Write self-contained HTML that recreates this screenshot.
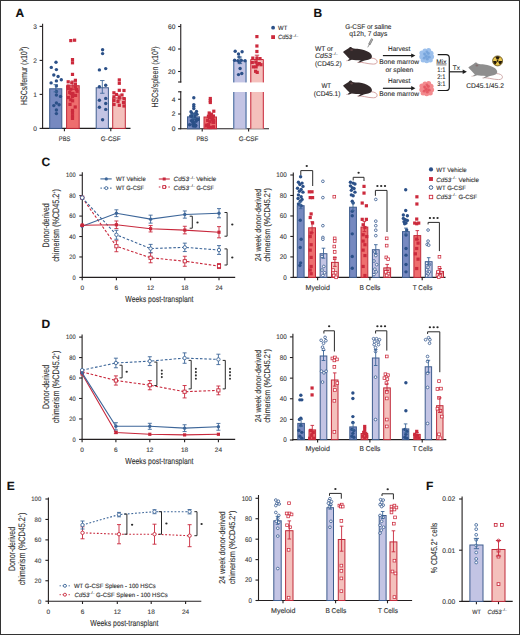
<!DOCTYPE html>
<html><head><meta charset="utf-8"><title>Figure</title>
<style>
html,body{margin:0;padding:0;background:#fff;width:520px;height:635px;overflow:hidden;}
svg{display:block;font-family:"Liberation Sans", sans-serif;text-rendering:geometricPrecision;}
</style></head>
<body>
<svg width="520" height="635" viewBox="0 0 520 635">
<rect x="0.5" y="0.5" width="519" height="634" fill="white" stroke="#333" stroke-width="1"/>
<text x="15.60" y="16.80" font-size="12" text-anchor="start" font-weight="bold" fill="#111" stroke="#111" stroke-width="0.13">A</text>
<line x1="42.60" y1="23.80" x2="42.60" y2="128.95" stroke="#231f20" stroke-width="1.1" stroke-linecap="butt"/>
<line x1="39.60" y1="26.40" x2="42.60" y2="26.40" stroke="#231f20" stroke-width="1.1" stroke-linecap="butt"/>
<text x="37.00" y="28.78" font-size="6.6" text-anchor="end" font-weight="normal" fill="#3c3c3c" stroke="#3c3c3c" stroke-width="0.12">3</text>
<line x1="39.60" y1="60.40" x2="42.60" y2="60.40" stroke="#231f20" stroke-width="1.1" stroke-linecap="butt"/>
<text x="37.00" y="62.78" font-size="6.6" text-anchor="end" font-weight="normal" fill="#3c3c3c" stroke="#3c3c3c" stroke-width="0.12">2</text>
<line x1="39.60" y1="94.40" x2="42.60" y2="94.40" stroke="#231f20" stroke-width="1.1" stroke-linecap="butt"/>
<text x="37.00" y="96.78" font-size="6.6" text-anchor="end" font-weight="normal" fill="#3c3c3c" stroke="#3c3c3c" stroke-width="0.12">1</text>
<line x1="39.60" y1="128.40" x2="42.60" y2="128.40" stroke="#231f20" stroke-width="1.1" stroke-linecap="butt"/>
<text x="37.00" y="130.78" font-size="6.6" text-anchor="end" font-weight="normal" fill="#3c3c3c" stroke="#3c3c3c" stroke-width="0.12">0</text>
<line x1="42.05" y1="128.40" x2="130.50" y2="128.40" stroke="#231f20" stroke-width="1.1" stroke-linecap="butt"/>
<line x1="64.40" y1="128.40" x2="64.40" y2="131.20" stroke="#231f20" stroke-width="1.1" stroke-linecap="butt"/>
<line x1="110.80" y1="128.40" x2="110.80" y2="131.20" stroke="#231f20" stroke-width="1.1" stroke-linecap="butt"/>
<text x="64.60" y="141.20" font-size="6.6" text-anchor="middle" font-weight="normal" fill="#333333" stroke="#333333" stroke-width="0.13" textLength="11.50" lengthAdjust="spacingAndGlyphs">PBS</text>
<text x="110.70" y="141.20" font-size="6.6" text-anchor="middle" font-weight="normal" fill="#333333" stroke="#333333" stroke-width="0.13" textLength="19.70" lengthAdjust="spacingAndGlyphs">G-CSF</text>
<text x="26.90" y="75.80" font-size="9.0" text-anchor="middle" font-weight="normal" fill="#333333" stroke="#333333" stroke-width="0.13" textLength="58.50" lengthAdjust="spacingAndGlyphs" transform="rotate(-90 26.90 75.80)">HSCs/femur (x10<tspan font-size="5.4" dy="-3.4">3</tspan><tspan dy="3.4">)</tspan></text>
<rect x="49.70" y="88.78" width="12.10" height="39.62" fill="#7689c0" stroke="#3f5d8e" stroke-width="1.0"/>
<rect x="66.60" y="85.72" width="12.60" height="42.68" fill="#ee6e6e" stroke="#c02a3a" stroke-width="1.0"/>
<rect x="96.20" y="87.76" width="12.20" height="40.64" fill="#c3c4e4" stroke="#3f5d8e" stroke-width="1.0"/>
<rect x="112.70" y="97.96" width="12.60" height="30.44" fill="#f4c0bc" stroke="#c02a3a" stroke-width="1.0"/>
<circle cx="56.00" cy="62.20" r="1.7" fill="#2b5088"/>
<circle cx="51.30" cy="67.40" r="1.7" fill="#2b5088"/>
<circle cx="56.40" cy="69.60" r="1.7" fill="#2b5088"/>
<circle cx="53.80" cy="75.00" r="1.7" fill="#2b5088"/>
<circle cx="58.10" cy="76.50" r="1.7" fill="#2b5088"/>
<circle cx="61.30" cy="79.70" r="1.7" fill="#2b5088"/>
<circle cx="56.40" cy="80.90" r="1.7" fill="#2b5088"/>
<circle cx="51.10" cy="82.90" r="1.7" fill="#2b5088"/>
<circle cx="56.40" cy="86.00" r="1.7" fill="#2b5088"/>
<circle cx="56.40" cy="91.50" r="1.7" fill="#2b5088"/>
<circle cx="56.40" cy="95.00" r="1.7" fill="#2b5088"/>
<circle cx="60.50" cy="96.40" r="1.7" fill="#2b5088"/>
<circle cx="56.40" cy="103.00" r="1.7" fill="#2b5088"/>
<circle cx="53.80" cy="105.60" r="1.7" fill="#2b5088"/>
<circle cx="59.10" cy="104.80" r="1.7" fill="#2b5088"/>
<circle cx="56.40" cy="110.00" r="1.7" fill="#2b5088"/>
<circle cx="56.40" cy="113.60" r="1.7" fill="#2b5088"/>
<rect x="69.20" y="39.00" width="3.2" height="3.2" fill="#cc2a3c"/>
<rect x="73.00" y="38.60" width="3.2" height="3.2" fill="#cc2a3c"/>
<rect x="70.90" y="58.00" width="3.2" height="3.2" fill="#cc2a3c"/>
<rect x="70.90" y="61.20" width="3.2" height="3.2" fill="#cc2a3c"/>
<rect x="70.90" y="72.80" width="3.2" height="3.2" fill="#cc2a3c"/>
<rect x="73.80" y="78.70" width="3.2" height="3.2" fill="#cc2a3c"/>
<rect x="66.60" y="80.20" width="3.2" height="3.2" fill="#cc2a3c"/>
<rect x="70.20" y="81.30" width="3.2" height="3.2" fill="#cc2a3c"/>
<rect x="73.80" y="82.40" width="3.2" height="3.2" fill="#cc2a3c"/>
<rect x="66.60" y="84.40" width="3.2" height="3.2" fill="#cc2a3c"/>
<rect x="73.80" y="85.50" width="3.2" height="3.2" fill="#cc2a3c"/>
<rect x="69.20" y="87.60" width="3.2" height="3.2" fill="#cc2a3c"/>
<rect x="75.50" y="89.70" width="3.2" height="3.2" fill="#cc2a3c"/>
<rect x="68.10" y="90.80" width="3.2" height="3.2" fill="#cc2a3c"/>
<rect x="71.30" y="91.90" width="3.2" height="3.2" fill="#cc2a3c"/>
<rect x="70.90" y="95.00" width="3.2" height="3.2" fill="#cc2a3c"/>
<rect x="69.20" y="98.20" width="3.2" height="3.2" fill="#cc2a3c"/>
<rect x="70.90" y="108.80" width="3.2" height="3.2" fill="#cc2a3c"/>
<rect x="70.90" y="114.10" width="3.2" height="3.2" fill="#cc2a3c"/>
<rect x="70.90" y="116.80" width="3.2" height="3.2" fill="#cc2a3c"/>
<rect x="66.90" y="86.90" width="3.2" height="3.2" fill="#cc2a3c"/>
<rect x="74.90" y="87.80" width="3.2" height="3.2" fill="#cc2a3c"/>
<rect x="69.40" y="92.00" width="3.2" height="3.2" fill="#cc2a3c"/>
<rect x="74.00" y="93.80" width="3.2" height="3.2" fill="#cc2a3c"/>
<rect x="67.00" y="96.00" width="3.2" height="3.2" fill="#cc2a3c"/>
<rect x="71.00" y="99.20" width="3.2" height="3.2" fill="#cc2a3c"/>
<rect x="68.40" y="102.80" width="3.2" height="3.2" fill="#cc2a3c"/>
<rect x="73.60" y="105.40" width="3.2" height="3.2" fill="#cc2a3c"/>
<rect x="70.90" y="111.00" width="3.2" height="3.2" fill="#cc2a3c"/>
<circle cx="102.60" cy="49.80" r="1.7" fill="#2b5088"/>
<circle cx="102.60" cy="53.60" r="1.7" fill="#2b5088"/>
<circle cx="99.40" cy="69.90" r="1.7" fill="#2b5088"/>
<circle cx="105.70" cy="68.60" r="1.7" fill="#2b5088"/>
<circle cx="99.40" cy="86.70" r="1.7" fill="#2b5088"/>
<circle cx="105.70" cy="85.20" r="1.7" fill="#2b5088"/>
<circle cx="99.40" cy="100.30" r="1.7" fill="#2b5088"/>
<circle cx="105.70" cy="98.40" r="1.7" fill="#2b5088"/>
<circle cx="105.70" cy="103.50" r="1.7" fill="#2b5088"/>
<circle cx="99.40" cy="107.20" r="1.7" fill="#2b5088"/>
<circle cx="105.70" cy="109.40" r="1.7" fill="#2b5088"/>
<circle cx="102.60" cy="119.80" r="1.7" fill="#2b5088"/>
<rect x="117.70" y="78.30" width="3.2" height="3.2" fill="#cc2a3c"/>
<rect x="117.70" y="81.70" width="3.2" height="3.2" fill="#cc2a3c"/>
<rect x="117.70" y="88.70" width="3.2" height="3.2" fill="#cc2a3c"/>
<rect x="122.40" y="88.90" width="3.2" height="3.2" fill="#cc2a3c"/>
<rect x="112.30" y="91.20" width="3.2" height="3.2" fill="#cc2a3c"/>
<rect x="114.90" y="92.90" width="3.2" height="3.2" fill="#cc2a3c"/>
<rect x="120.40" y="93.40" width="3.2" height="3.2" fill="#cc2a3c"/>
<rect x="112.30" y="95.20" width="3.2" height="3.2" fill="#cc2a3c"/>
<rect x="117.70" y="95.90" width="3.2" height="3.2" fill="#cc2a3c"/>
<rect x="122.40" y="97.00" width="3.2" height="3.2" fill="#cc2a3c"/>
<rect x="112.40" y="98.90" width="3.2" height="3.2" fill="#cc2a3c"/>
<rect x="116.40" y="99.90" width="3.2" height="3.2" fill="#cc2a3c"/>
<rect x="121.90" y="100.90" width="3.2" height="3.2" fill="#cc2a3c"/>
<rect x="117.70" y="103.70" width="3.2" height="3.2" fill="#cc2a3c"/>
<rect x="112.40" y="102.90" width="3.2" height="3.2" fill="#cc2a3c"/>
<rect x="122.40" y="104.40" width="3.2" height="3.2" fill="#cc2a3c"/>
<line x1="55.75" y1="84.68" x2="55.75" y2="91.88" stroke="#3d6699" stroke-width="0.9" stroke-linecap="butt"/>
<line x1="53.55" y1="84.68" x2="57.95" y2="84.68" stroke="#3d6699" stroke-width="0.9" stroke-linecap="butt"/>
<line x1="53.55" y1="91.88" x2="57.95" y2="91.88" stroke="#3d6699" stroke-width="0.9" stroke-linecap="butt"/>
<line x1="72.90" y1="81.02" x2="72.90" y2="89.42" stroke="#c8283c" stroke-width="0.9" stroke-linecap="butt"/>
<line x1="70.70" y1="81.02" x2="75.10" y2="81.02" stroke="#c8283c" stroke-width="0.9" stroke-linecap="butt"/>
<line x1="70.70" y1="89.42" x2="75.10" y2="89.42" stroke="#c8283c" stroke-width="0.9" stroke-linecap="butt"/>
<line x1="102.30" y1="80.56" x2="102.30" y2="93.26" stroke="#3d6699" stroke-width="0.9" stroke-linecap="butt"/>
<line x1="100.10" y1="80.56" x2="104.50" y2="80.56" stroke="#3d6699" stroke-width="0.9" stroke-linecap="butt"/>
<line x1="100.10" y1="93.26" x2="104.50" y2="93.26" stroke="#3d6699" stroke-width="0.9" stroke-linecap="butt"/>
<line x1="119.00" y1="95.06" x2="119.00" y2="99.86" stroke="#c8283c" stroke-width="0.9" stroke-linecap="butt"/>
<line x1="116.80" y1="95.06" x2="121.20" y2="95.06" stroke="#c8283c" stroke-width="0.9" stroke-linecap="butt"/>
<line x1="116.80" y1="99.86" x2="121.20" y2="99.86" stroke="#c8283c" stroke-width="0.9" stroke-linecap="butt"/>
<line x1="180.75" y1="23.90" x2="180.75" y2="82.50" stroke="#231f20" stroke-width="1.1" stroke-linecap="butt"/>
<line x1="180.75" y1="91.30" x2="180.75" y2="129.30" stroke="#231f20" stroke-width="1.1" stroke-linecap="butt"/>
<line x1="178.10" y1="26.50" x2="180.75" y2="26.50" stroke="#231f20" stroke-width="1.1" stroke-linecap="butt"/>
<text x="175.40" y="28.90" font-size="6.6" text-anchor="end" font-weight="normal" fill="#333333" stroke="#333333" stroke-width="0.13">60</text>
<line x1="178.10" y1="49.00" x2="180.75" y2="49.00" stroke="#231f20" stroke-width="1.1" stroke-linecap="butt"/>
<text x="175.40" y="51.40" font-size="6.6" text-anchor="end" font-weight="normal" fill="#333333" stroke="#333333" stroke-width="0.13">40</text>
<line x1="178.10" y1="71.50" x2="180.75" y2="71.50" stroke="#231f20" stroke-width="1.1" stroke-linecap="butt"/>
<text x="175.40" y="73.90" font-size="6.6" text-anchor="end" font-weight="normal" fill="#333333" stroke="#333333" stroke-width="0.13">20</text>
<line x1="178.10" y1="99.25" x2="180.75" y2="99.25" stroke="#231f20" stroke-width="1.1" stroke-linecap="butt"/>
<text x="175.40" y="101.65" font-size="6.6" text-anchor="end" font-weight="normal" fill="#333333" stroke="#333333" stroke-width="0.13">4</text>
<line x1="178.10" y1="114.00" x2="180.75" y2="114.00" stroke="#231f20" stroke-width="1.1" stroke-linecap="butt"/>
<text x="175.40" y="116.40" font-size="6.6" text-anchor="end" font-weight="normal" fill="#333333" stroke="#333333" stroke-width="0.13">2</text>
<line x1="178.10" y1="128.75" x2="180.75" y2="128.75" stroke="#231f20" stroke-width="1.1" stroke-linecap="butt"/>
<text x="175.40" y="131.15" font-size="6.6" text-anchor="end" font-weight="normal" fill="#333333" stroke="#333333" stroke-width="0.13">0</text>
<line x1="178.10" y1="82.00" x2="181.30" y2="82.00" stroke="#231f20" stroke-width="1.1" stroke-linecap="butt"/>
<line x1="178.10" y1="91.80" x2="181.30" y2="91.80" stroke="#231f20" stroke-width="1.1" stroke-linecap="butt"/>
<line x1="180.20" y1="128.75" x2="269.00" y2="128.75" stroke="#231f20" stroke-width="1.1" stroke-linecap="butt"/>
<line x1="202.20" y1="128.75" x2="202.20" y2="131.55" stroke="#231f20" stroke-width="1.1" stroke-linecap="butt"/>
<line x1="248.60" y1="128.75" x2="248.60" y2="131.55" stroke="#231f20" stroke-width="1.1" stroke-linecap="butt"/>
<text x="202.30" y="141.20" font-size="6.6" text-anchor="middle" font-weight="normal" fill="#333333" stroke="#333333" stroke-width="0.13" textLength="11.60" lengthAdjust="spacingAndGlyphs">PBS</text>
<text x="248.60" y="141.20" font-size="6.6" text-anchor="middle" font-weight="normal" fill="#333333" stroke="#333333" stroke-width="0.13" textLength="19.70" lengthAdjust="spacingAndGlyphs">G-CSF</text>
<text x="158.40" y="77.00" font-size="9.0" text-anchor="middle" font-weight="normal" fill="#333333" stroke="#333333" stroke-width="0.13" textLength="61.00" lengthAdjust="spacingAndGlyphs" transform="rotate(-90 158.40 77.00)">HSCs/spleen (x10<tspan font-size="5.4" dy="-3.4">3</tspan><tspan dy="3.4">)</tspan></text>
<rect x="187.50" y="116.86" width="12.00" height="11.89" fill="#7689c0" stroke="#3f5d8e" stroke-width="1.0"/>
<rect x="204.00" y="117.01" width="12.50" height="11.74" fill="#ee6e6e" stroke="#c02a3a" stroke-width="1.0"/>
<rect x="233.30" y="60.30" width="13.20" height="22.10" fill="#c3c4e4"/>
<path d="M233.80,82.4 V60.80 H246.00 V82.4" fill="none" stroke="#3d6699" stroke-width="1"/>
<rect x="233.30" y="92.00" width="13.20" height="36.75" fill="#c3c4e4"/>
<path d="M233.80,128.75 V92.0 M246.00,92.0 V128.75" fill="none" stroke="#3d6699" stroke-width="1"/>
<rect x="250.30" y="59.00" width="13.50" height="23.40" fill="#f4c0bc"/>
<path d="M250.80,82.4 V59.50 H263.30 V82.4" fill="none" stroke="#c8283c" stroke-width="1"/>
<rect x="250.30" y="92.00" width="13.50" height="36.75" fill="#f4c0bc"/>
<path d="M250.80,128.75 V92.0 M263.30,92.0 V128.75" fill="none" stroke="#c8283c" stroke-width="1"/>
<circle cx="193.80" cy="97.70" r="1.7" fill="#2b5088"/>
<circle cx="193.80" cy="104.60" r="1.7" fill="#2b5088"/>
<circle cx="193.80" cy="106.40" r="1.7" fill="#2b5088"/>
<circle cx="193.80" cy="108.60" r="1.7" fill="#2b5088"/>
<circle cx="191.00" cy="111.80" r="1.7" fill="#2b5088"/>
<circle cx="196.50" cy="111.50" r="1.7" fill="#2b5088"/>
<circle cx="191.52" cy="120.62" r="1.7" fill="#2b5088"/>
<circle cx="192.64" cy="121.45" r="1.7" fill="#2b5088"/>
<circle cx="194.82" cy="113.92" r="1.7" fill="#2b5088"/>
<circle cx="189.61" cy="124.72" r="1.7" fill="#2b5088"/>
<circle cx="191.70" cy="116.28" r="1.7" fill="#2b5088"/>
<circle cx="197.96" cy="119.58" r="1.7" fill="#2b5088"/>
<circle cx="196.61" cy="119.67" r="1.7" fill="#2b5088"/>
<circle cx="194.93" cy="115.11" r="1.7" fill="#2b5088"/>
<circle cx="194.90" cy="125.15" r="1.7" fill="#2b5088"/>
<circle cx="193.95" cy="123.38" r="1.7" fill="#2b5088"/>
<circle cx="195.21" cy="113.90" r="1.7" fill="#2b5088"/>
<circle cx="195.94" cy="121.28" r="1.7" fill="#2b5088"/>
<circle cx="192.06" cy="113.43" r="1.7" fill="#2b5088"/>
<circle cx="196.86" cy="119.62" r="1.7" fill="#2b5088"/>
<circle cx="195.61" cy="125.30" r="1.7" fill="#2b5088"/>
<circle cx="195.57" cy="125.90" r="1.7" fill="#2b5088"/>
<circle cx="192.86" cy="124.21" r="1.7" fill="#2b5088"/>
<circle cx="193.28" cy="126.10" r="1.7" fill="#2b5088"/>
<circle cx="196.97" cy="114.36" r="1.7" fill="#2b5088"/>
<circle cx="190.66" cy="116.04" r="1.7" fill="#2b5088"/>
<circle cx="197.71" cy="119.11" r="1.7" fill="#2b5088"/>
<circle cx="194.83" cy="117.21" r="1.7" fill="#2b5088"/>
<circle cx="193.81" cy="118.40" r="1.7" fill="#2b5088"/>
<circle cx="192.48" cy="121.19" r="1.7" fill="#2b5088"/>
<circle cx="194.47" cy="125.66" r="1.7" fill="#2b5088"/>
<circle cx="195.30" cy="126.01" r="1.7" fill="#2b5088"/>
<rect x="208.70" y="96.90" width="3.2" height="3.2" fill="#cc2a3c"/>
<rect x="208.70" y="99.20" width="3.2" height="3.2" fill="#cc2a3c"/>
<rect x="208.70" y="100.90" width="3.2" height="3.2" fill="#cc2a3c"/>
<rect x="212.20" y="109.60" width="3.2" height="3.2" fill="#cc2a3c"/>
<rect x="207.60" y="111.40" width="3.2" height="3.2" fill="#cc2a3c"/>
<rect x="209.90" y="112.60" width="3.2" height="3.2" fill="#cc2a3c"/>
<rect x="211.68" y="125.79" width="3.2" height="3.2" fill="#cc2a3c"/>
<rect x="210.11" y="115.86" width="3.2" height="3.2" fill="#cc2a3c"/>
<rect x="211.72" y="125.48" width="3.2" height="3.2" fill="#cc2a3c"/>
<rect x="212.09" y="120.73" width="3.2" height="3.2" fill="#cc2a3c"/>
<rect x="210.47" y="116.43" width="3.2" height="3.2" fill="#cc2a3c"/>
<rect x="211.47" y="120.78" width="3.2" height="3.2" fill="#cc2a3c"/>
<rect x="206.82" y="114.66" width="3.2" height="3.2" fill="#cc2a3c"/>
<rect x="211.66" y="125.78" width="3.2" height="3.2" fill="#cc2a3c"/>
<rect x="205.15" y="123.51" width="3.2" height="3.2" fill="#cc2a3c"/>
<rect x="207.89" y="115.71" width="3.2" height="3.2" fill="#cc2a3c"/>
<rect x="206.90" y="123.13" width="3.2" height="3.2" fill="#cc2a3c"/>
<rect x="211.82" y="114.43" width="3.2" height="3.2" fill="#cc2a3c"/>
<rect x="209.62" y="114.44" width="3.2" height="3.2" fill="#cc2a3c"/>
<rect x="210.51" y="117.87" width="3.2" height="3.2" fill="#cc2a3c"/>
<rect x="211.89" y="125.67" width="3.2" height="3.2" fill="#cc2a3c"/>
<rect x="208.70" y="125.88" width="3.2" height="3.2" fill="#cc2a3c"/>
<rect x="207.03" y="114.82" width="3.2" height="3.2" fill="#cc2a3c"/>
<rect x="209.50" y="114.28" width="3.2" height="3.2" fill="#cc2a3c"/>
<rect x="206.08" y="118.80" width="3.2" height="3.2" fill="#cc2a3c"/>
<rect x="209.59" y="115.77" width="3.2" height="3.2" fill="#cc2a3c"/>
<rect x="204.76" y="124.31" width="3.2" height="3.2" fill="#cc2a3c"/>
<rect x="207.07" y="125.40" width="3.2" height="3.2" fill="#cc2a3c"/>
<rect x="212.02" y="118.43" width="3.2" height="3.2" fill="#cc2a3c"/>
<rect x="208.31" y="120.14" width="3.2" height="3.2" fill="#cc2a3c"/>
<line x1="193.50" y1="114.16" x2="193.50" y2="118.56" stroke="#3d6699" stroke-width="0.9" stroke-linecap="butt"/>
<line x1="191.30" y1="114.16" x2="195.70" y2="114.16" stroke="#3d6699" stroke-width="0.9" stroke-linecap="butt"/>
<line x1="191.30" y1="118.56" x2="195.70" y2="118.56" stroke="#3d6699" stroke-width="0.9" stroke-linecap="butt"/>
<line x1="210.20" y1="114.31" x2="210.20" y2="118.71" stroke="#c8283c" stroke-width="0.9" stroke-linecap="butt"/>
<line x1="208.00" y1="114.31" x2="212.40" y2="114.31" stroke="#c8283c" stroke-width="0.9" stroke-linecap="butt"/>
<line x1="208.00" y1="118.71" x2="212.40" y2="118.71" stroke="#c8283c" stroke-width="0.9" stroke-linecap="butt"/>
<circle cx="235.20" cy="51.20" r="1.7" fill="#2b5088"/>
<circle cx="238.50" cy="53.90" r="1.7" fill="#2b5088"/>
<circle cx="242.10" cy="51.70" r="1.7" fill="#2b5088"/>
<circle cx="239.00" cy="57.00" r="1.7" fill="#2b5088"/>
<circle cx="234.60" cy="60.30" r="1.7" fill="#2b5088"/>
<circle cx="237.90" cy="60.80" r="1.7" fill="#2b5088"/>
<circle cx="241.20" cy="60.30" r="1.7" fill="#2b5088"/>
<circle cx="245.10" cy="60.80" r="1.7" fill="#2b5088"/>
<circle cx="239.60" cy="62.50" r="1.7" fill="#2b5088"/>
<circle cx="240.10" cy="68.50" r="1.7" fill="#2b5088"/>
<circle cx="238.50" cy="74.60" r="1.7" fill="#2b5088"/>
<circle cx="241.80" cy="73.50" r="1.7" fill="#2b5088"/>
<rect x="255.30" y="35.00" width="3.2" height="3.2" fill="#cc2a3c"/>
<rect x="255.30" y="44.40" width="3.2" height="3.2" fill="#cc2a3c"/>
<rect x="255.30" y="49.90" width="3.2" height="3.2" fill="#cc2a3c"/>
<rect x="251.20" y="56.50" width="3.2" height="3.2" fill="#cc2a3c"/>
<rect x="255.30" y="56.50" width="3.2" height="3.2" fill="#cc2a3c"/>
<rect x="258.40" y="57.00" width="3.2" height="3.2" fill="#cc2a3c"/>
<rect x="250.70" y="60.90" width="3.2" height="3.2" fill="#cc2a3c"/>
<rect x="254.20" y="60.40" width="3.2" height="3.2" fill="#cc2a3c"/>
<rect x="257.70" y="62.00" width="3.2" height="3.2" fill="#cc2a3c"/>
<rect x="255.60" y="63.10" width="3.2" height="3.2" fill="#cc2a3c"/>
<rect x="251.80" y="65.30" width="3.2" height="3.2" fill="#cc2a3c"/>
<rect x="254.50" y="65.30" width="3.2" height="3.2" fill="#cc2a3c"/>
<rect x="259.40" y="63.10" width="3.2" height="3.2" fill="#cc2a3c"/>
<rect x="254.00" y="69.70" width="3.2" height="3.2" fill="#cc2a3c"/>
<rect x="255.60" y="70.80" width="3.2" height="3.2" fill="#cc2a3c"/>
<line x1="239.90" y1="57.00" x2="239.90" y2="63.60" stroke="#3d6699" stroke-width="0.9" stroke-linecap="butt"/>
<line x1="237.70" y1="57.00" x2="242.10" y2="57.00" stroke="#3d6699" stroke-width="0.9" stroke-linecap="butt"/>
<line x1="237.70" y1="63.60" x2="242.10" y2="63.60" stroke="#3d6699" stroke-width="0.9" stroke-linecap="butt"/>
<line x1="257.00" y1="55.20" x2="257.00" y2="62.80" stroke="#c8283c" stroke-width="0.9" stroke-linecap="butt"/>
<line x1="254.80" y1="55.20" x2="259.20" y2="55.20" stroke="#c8283c" stroke-width="0.9" stroke-linecap="butt"/>
<line x1="254.80" y1="62.80" x2="259.20" y2="62.80" stroke="#c8283c" stroke-width="0.9" stroke-linecap="butt"/>
<circle cx="273.10" cy="27.70" r="1.9" fill="#2b5088"/>
<rect x="271.20" y="35.20" width="3.8" height="3.8" fill="#cc2a3c"/>
<text x="278.10" y="29.90" font-size="6.2" text-anchor="start" font-weight="normal" fill="#333333" stroke="#333333" stroke-width="0.13" textLength="9.20" lengthAdjust="spacingAndGlyphs">WT</text>
<text x="278.10" y="39.30" font-size="6.2" text-anchor="start" font-weight="normal" fill="#333333" stroke="#333333" stroke-width="0.13" textLength="14.00" lengthAdjust="spacingAndGlyphs" font-style="italic">Cd53</text>
<text x="292.60" y="36.90" font-size="3.6" text-anchor="start" font-weight="normal" fill="#333333" stroke="#333333" stroke-width="0.13" textLength="5.60" lengthAdjust="spacingAndGlyphs">–/–</text>
<text x="313.60" y="17.20" font-size="12" text-anchor="start" font-weight="bold" fill="#111" stroke="#111" stroke-width="0.13">B</text>
<text x="368.30" y="28.80" font-size="6.9" text-anchor="middle" font-weight="normal" fill="#2b2b2b" stroke="#2b2b2b" stroke-width="0.1" textLength="46.30" lengthAdjust="spacingAndGlyphs">G-CSF or saline</text>
<text x="368.20" y="36.30" font-size="6.9" text-anchor="middle" font-weight="normal" fill="#2b2b2b" stroke="#2b2b2b" stroke-width="0.1" textLength="38.10" lengthAdjust="spacingAndGlyphs">q12h, 7 days</text>
<text x="324.00" y="50.90" font-size="6.9" text-anchor="middle" font-weight="normal" fill="#2b2b2b" stroke="#2b2b2b" stroke-width="0.1" textLength="18.00" lengthAdjust="spacingAndGlyphs">WT or</text>
<text x="315.00" y="57.60" font-size="6.9" text-anchor="start" font-weight="normal" fill="#2b2b2b" stroke="#2b2b2b" stroke-width="0.1" textLength="16.80" lengthAdjust="spacingAndGlyphs" font-style="italic">Cd53</text>
<text x="332.20" y="54.60" font-size="3.6" text-anchor="start" font-weight="normal" fill="#2b2b2b" stroke="#2b2b2b" stroke-width="0.1" textLength="5.60" lengthAdjust="spacingAndGlyphs">–/–</text>
<text x="328.30" y="65.60" font-size="6.9" text-anchor="middle" font-weight="normal" fill="#2b2b2b" stroke="#2b2b2b" stroke-width="0.1" textLength="26.70" lengthAdjust="spacingAndGlyphs">(CD45.2)</text>
<text x="326.20" y="87.80" font-size="6.9" text-anchor="middle" font-weight="normal" fill="#2b2b2b" stroke="#2b2b2b" stroke-width="0.1" textLength="9.60" lengthAdjust="spacingAndGlyphs">WT</text>
<text x="327.10" y="95.60" font-size="6.9" text-anchor="middle" font-weight="normal" fill="#2b2b2b" stroke="#2b2b2b" stroke-width="0.1" textLength="26.80" lengthAdjust="spacingAndGlyphs">(CD45.1)</text>
<g transform="translate(343.00,52.10) scale(1.0)"><path d="M28.2,6.0 C31,6.0 33.8,7.2 34.1,9.0 C34.4,10.9 33,12 30.3,12 C27.5,12 24.5,11.4 21.5,10.8 C19.5,10.4 18,10.2 16.6,10.1" fill="none" stroke="#cf9a9a" stroke-width="0.9"/><path d="M0,0 C0.8,-0.8 1.6,-1.5 2.4,-1.9 C3.5,-2.5 4.5,-3.2 5.6,-3.8 C6.2,-4.6 6.8,-5.2 7.5,-5.2 C8.4,-5.2 9,-4.6 9.2,-4.0 C11,-3.2 14,-3.3 16,-3.2 C20,-2.8 23.5,-1.6 26,0.2 C28,1.6 29.2,3.4 28.9,5.0 C28.6,6.4 27.2,7.2 25.2,7.6 C23.6,7.9 22,8.2 20.8,8.6 L16.6,10.4 L15,10.8 L15.4,10 L17.8,8.4 C16,8.3 14.4,8.3 13,8.2 C11.5,8 10,7.9 8.8,7.7 L6,8.6 L4.4,8.6 L5,8 L6.6,6.8 C5,5.4 3.8,4 2.6,2.6 C1.6,1.6 0.6,0.8 0,0 Z" fill="#33292a"/><path d="M16.2,10.1 l-2.2,0.3 M4.9,8.5 l-1.8,0.2" stroke="#cf9a9a" stroke-width="0.6"/><ellipse cx="8.6" cy="-2.2" rx="1.4" ry="1.0" fill="#7a5555" opacity="0.55"/></g>
<g transform="translate(343.00,85.80) scale(1.0)"><path d="M28.2,6.0 C31,6.0 33.8,7.2 34.1,9.0 C34.4,10.9 33,12 30.3,12 C27.5,12 24.5,11.4 21.5,10.8 C19.5,10.4 18,10.2 16.6,10.1" fill="none" stroke="#cf9a9a" stroke-width="0.9"/><path d="M0,0 C0.8,-0.8 1.6,-1.5 2.4,-1.9 C3.5,-2.5 4.5,-3.2 5.6,-3.8 C6.2,-4.6 6.8,-5.2 7.5,-5.2 C8.4,-5.2 9,-4.6 9.2,-4.0 C11,-3.2 14,-3.3 16,-3.2 C20,-2.8 23.5,-1.6 26,0.2 C28,1.6 29.2,3.4 28.9,5.0 C28.6,6.4 27.2,7.2 25.2,7.6 C23.6,7.9 22,8.2 20.8,8.6 L16.6,10.4 L15,10.8 L15.4,10 L17.8,8.4 C16,8.3 14.4,8.3 13,8.2 C11.5,8 10,7.9 8.8,7.7 L6,8.6 L4.4,8.6 L5,8 L6.6,6.8 C5,5.4 3.8,4 2.6,2.6 C1.6,1.6 0.6,0.8 0,0 Z" fill="#33292a"/><path d="M16.2,10.1 l-2.2,0.3 M4.9,8.5 l-1.8,0.2" stroke="#cf9a9a" stroke-width="0.6"/><ellipse cx="8.6" cy="-2.2" rx="1.4" ry="1.0" fill="#7a5555" opacity="0.55"/></g>
<g transform="translate(370.1,42.9) rotate(28)"><rect x="-1.2" y="-4.8" width="2.4" height="7.0" rx="0.7" fill="#7a7a7a"/><rect x="-0.7" y="-4.2" width="1.4" height="5.2" fill="#a8a8a8"/><line x1="0" y1="2.2" x2="0" y2="5.0" stroke="#666" stroke-width="0.6"/></g>
<text x="399.20" y="50.80" font-size="6.7" text-anchor="middle" font-weight="normal" fill="#2b2b2b" stroke="#2b2b2b" stroke-width="0.1" textLength="22.30" lengthAdjust="spacingAndGlyphs">Harvest</text>
<line x1="382.90" y1="55.60" x2="411.90" y2="55.60" stroke="#1c1c1c" stroke-width="1.2" stroke-linecap="butt"/>
<path d="M415.40,55.60 L411.20,53.40 L411.20,57.80 Z" fill="#1c1c1c"/>
<text x="399.20" y="64.20" font-size="6.7" text-anchor="middle" font-weight="normal" fill="#2b2b2b" stroke="#2b2b2b" stroke-width="0.1" textLength="39.70" lengthAdjust="spacingAndGlyphs">Bone marrow</text>
<text x="399.30" y="72.20" font-size="6.7" text-anchor="middle" font-weight="normal" fill="#2b2b2b" stroke="#2b2b2b" stroke-width="0.1" textLength="27.80" lengthAdjust="spacingAndGlyphs">or spleen</text>
<text x="399.20" y="82.50" font-size="6.7" text-anchor="middle" font-weight="normal" fill="#2b2b2b" stroke="#2b2b2b" stroke-width="0.1" textLength="22.30" lengthAdjust="spacingAndGlyphs">Harvest</text>
<line x1="382.90" y1="88.30" x2="411.90" y2="88.30" stroke="#1c1c1c" stroke-width="1.2" stroke-linecap="butt"/>
<path d="M415.40,88.30 L411.20,86.10 L411.20,90.50 Z" fill="#1c1c1c"/>
<text x="399.20" y="95.50" font-size="6.7" text-anchor="middle" font-weight="normal" fill="#2b2b2b" stroke="#2b2b2b" stroke-width="0.1" textLength="39.70" lengthAdjust="spacingAndGlyphs">Bone marrow</text>
<circle cx="426.70" cy="55.80" r="5.6" fill="#8cb6e6"/>
<circle cx="431.62" cy="56.67" r="2.5" fill="#9cc0ec"/>
<circle cx="430.30" cy="60.09" r="2.5" fill="#9cc0ec"/>
<circle cx="426.70" cy="60.80" r="2.5" fill="#9cc0ec"/>
<circle cx="423.10" cy="60.09" r="2.5" fill="#9cc0ec"/>
<circle cx="421.78" cy="56.67" r="2.5" fill="#9cc0ec"/>
<circle cx="421.85" cy="53.00" r="2.5" fill="#9cc0ec"/>
<circle cx="424.99" cy="51.10" r="2.5" fill="#9cc0ec"/>
<circle cx="428.62" cy="50.54" r="2.5" fill="#9cc0ec"/>
<circle cx="431.03" cy="53.30" r="2.5" fill="#9cc0ec"/>
<circle cx="424.50" cy="54.00" r="1.4" fill="#6b9bd6" opacity="0.7"/>
<circle cx="428.50" cy="53.40" r="1.4" fill="#6b9bd6" opacity="0.7"/>
<circle cx="426.30" cy="56.40" r="1.4" fill="#6b9bd6" opacity="0.7"/>
<circle cx="429.30" cy="57.20" r="1.4" fill="#6b9bd6" opacity="0.7"/>
<circle cx="424.10" cy="58.20" r="1.4" fill="#6b9bd6" opacity="0.7"/>
<circle cx="427.30" cy="59.20" r="1.4" fill="#6b9bd6" opacity="0.7"/>
<circle cx="426.90" cy="51.80" r="1.4" fill="#6b9bd6" opacity="0.7"/>
<circle cx="426.70" cy="88.80" r="5.6" fill="#ee7076"/>
<circle cx="431.62" cy="89.67" r="2.5" fill="#f38a8e"/>
<circle cx="430.30" cy="93.09" r="2.5" fill="#f38a8e"/>
<circle cx="426.70" cy="93.80" r="2.5" fill="#f38a8e"/>
<circle cx="423.10" cy="93.09" r="2.5" fill="#f38a8e"/>
<circle cx="421.78" cy="89.67" r="2.5" fill="#f38a8e"/>
<circle cx="421.85" cy="86.00" r="2.5" fill="#f38a8e"/>
<circle cx="424.99" cy="84.10" r="2.5" fill="#f38a8e"/>
<circle cx="428.62" cy="83.54" r="2.5" fill="#f38a8e"/>
<circle cx="431.03" cy="86.30" r="2.5" fill="#f38a8e"/>
<circle cx="424.50" cy="87.00" r="1.4" fill="#e04c58" opacity="0.7"/>
<circle cx="428.50" cy="86.40" r="1.4" fill="#e04c58" opacity="0.7"/>
<circle cx="426.30" cy="89.40" r="1.4" fill="#e04c58" opacity="0.7"/>
<circle cx="429.30" cy="90.20" r="1.4" fill="#e04c58" opacity="0.7"/>
<circle cx="424.10" cy="91.20" r="1.4" fill="#e04c58" opacity="0.7"/>
<circle cx="427.30" cy="92.20" r="1.4" fill="#e04c58" opacity="0.7"/>
<circle cx="426.90" cy="84.80" r="1.4" fill="#e04c58" opacity="0.7"/>
<path d="M437.7,54.6 L446.0,54.6 Q449.3,54.6 449.3,57.9 L449.3,87.2 Q449.3,90.5 446.0,90.5 L437.7,90.5" fill="none" stroke="#1c1c1c" stroke-width="1.2"/>
<text x="441.40" y="63.60" font-size="6.7" text-anchor="middle" font-weight="normal" fill="#2b2b2b" stroke="#2b2b2b" stroke-width="0.1" textLength="10.10" lengthAdjust="spacingAndGlyphs">Mix</text>
<line x1="436.40" y1="64.90" x2="446.40" y2="64.90" stroke="#2b2b2b" stroke-width="0.6" stroke-linecap="butt"/>
<text x="441.40" y="71.70" font-size="6.7" text-anchor="middle" font-weight="normal" fill="#2b2b2b" stroke="#2b2b2b" stroke-width="0.1" textLength="8.10" lengthAdjust="spacingAndGlyphs">1:1</text>
<text x="441.40" y="79.30" font-size="6.7" text-anchor="middle" font-weight="normal" fill="#2b2b2b" stroke="#2b2b2b" stroke-width="0.1" textLength="8.10" lengthAdjust="spacingAndGlyphs">2:1</text>
<text x="441.40" y="86.10" font-size="6.7" text-anchor="middle" font-weight="normal" fill="#2b2b2b" stroke="#2b2b2b" stroke-width="0.1" textLength="8.10" lengthAdjust="spacingAndGlyphs">3:1</text>
<line x1="449.30" y1="71.80" x2="463.40" y2="71.80" stroke="#1c1c1c" stroke-width="1.2" stroke-linecap="butt"/>
<path d="M466.90,71.80 L462.70,69.60 L462.70,74.00 Z" fill="#1c1c1c"/>
<text x="456.40" y="69.80" font-size="6.7" text-anchor="middle" font-weight="normal" fill="#2b2b2b" stroke="#2b2b2b" stroke-width="0.1" textLength="7.10" lengthAdjust="spacingAndGlyphs">Tx</text>
<g transform="translate(468.30,67.60) scale(1.0)"><path d="M28.2,6.0 C31,6.0 33.8,7.2 34.1,9.0 C34.4,10.9 33,12 30.3,12 C27.5,12 24.5,11.4 21.5,10.8 C19.5,10.4 18,10.2 16.6,10.1" fill="none" stroke="#c9a0a0" stroke-width="0.9"/><path d="M0,0 C0.8,-0.8 1.6,-1.5 2.4,-1.9 C3.5,-2.5 4.5,-3.2 5.6,-3.8 C6.2,-4.6 6.8,-5.2 7.5,-5.2 C8.4,-5.2 9,-4.6 9.2,-4.0 C11,-3.2 14,-3.3 16,-3.2 C20,-2.8 23.5,-1.6 26,0.2 C28,1.6 29.2,3.4 28.9,5.0 C28.6,6.4 27.2,7.2 25.2,7.6 C23.6,7.9 22,8.2 20.8,8.6 L16.6,10.4 L15,10.8 L15.4,10 L17.8,8.4 C16,8.3 14.4,8.3 13,8.2 C11.5,8 10,7.9 8.8,7.7 L6,8.6 L4.4,8.6 L5,8 L6.6,6.8 C5,5.4 3.8,4 2.6,2.6 C1.6,1.6 0.6,0.8 0,0 Z" fill="#8e8e8e"/><path d="M16.2,10.1 l-2.2,0.3 M4.9,8.5 l-1.8,0.2" stroke="#c9a0a0" stroke-width="0.6"/><ellipse cx="8.6" cy="-2.2" rx="1.4" ry="1.0" fill="#7a5555" opacity="0.55"/></g>
<g transform="translate(497.6,60.9)"><circle r="5.0" fill="#e8c54e" stroke="#4a3a10" stroke-width="0.7"/><circle r="0.9" fill="#231a0a"/><path d="M-0.65,-1.13 L-2.25,-3.90 A4.5,4.5 0 0 1 2.25,-3.90 L0.65,-1.13 A1.3,1.3 0 0 0 -0.65,-1.13 Z" fill="#231a0a"/><path d="M1.30,0.00 L4.50,0.00 A4.5,4.5 0 0 1 2.25,3.90 L0.65,1.13 A1.3,1.3 0 0 0 1.30,0.00 Z" fill="#231a0a"/><path d="M-0.65,1.13 L-2.25,3.90 A4.5,4.5 0 0 1 -4.50,0.00 L-1.30,0.00 A1.3,1.3 0 0 0 -0.65,1.13 Z" fill="#231a0a"/></g>
<text x="485.10" y="88.20" font-size="6.9" text-anchor="middle" font-weight="normal" fill="#2b2b2b" stroke="#2b2b2b" stroke-width="0.1" textLength="37.70" lengthAdjust="spacingAndGlyphs">CD45.1/45.2</text>
<text x="41.40" y="165.80" font-size="12" text-anchor="start" font-weight="bold" fill="#111" stroke="#111" stroke-width="0.13">C</text>
<line x1="82.30" y1="172.20" x2="82.30" y2="277.95" stroke="#231f20" stroke-width="1.1" stroke-linecap="butt"/>
<line x1="79.30" y1="175.20" x2="82.30" y2="175.20" stroke="#231f20" stroke-width="1.1" stroke-linecap="butt"/>
<text x="75.70" y="177.47" font-size="6.3" text-anchor="end" font-weight="normal" fill="#3c3c3c" stroke="#3c3c3c" stroke-width="0.12" textLength="9.60" lengthAdjust="spacingAndGlyphs">100</text>
<line x1="79.30" y1="195.64" x2="82.30" y2="195.64" stroke="#231f20" stroke-width="1.1" stroke-linecap="butt"/>
<text x="75.70" y="197.91" font-size="6.3" text-anchor="end" font-weight="normal" fill="#3c3c3c" stroke="#3c3c3c" stroke-width="0.12" textLength="6.40" lengthAdjust="spacingAndGlyphs">80</text>
<line x1="79.30" y1="216.08" x2="82.30" y2="216.08" stroke="#231f20" stroke-width="1.1" stroke-linecap="butt"/>
<text x="75.70" y="218.35" font-size="6.3" text-anchor="end" font-weight="normal" fill="#3c3c3c" stroke="#3c3c3c" stroke-width="0.12" textLength="6.40" lengthAdjust="spacingAndGlyphs">60</text>
<line x1="79.30" y1="236.52" x2="82.30" y2="236.52" stroke="#231f20" stroke-width="1.1" stroke-linecap="butt"/>
<text x="75.70" y="238.79" font-size="6.3" text-anchor="end" font-weight="normal" fill="#3c3c3c" stroke="#3c3c3c" stroke-width="0.12" textLength="6.40" lengthAdjust="spacingAndGlyphs">40</text>
<line x1="79.30" y1="256.96" x2="82.30" y2="256.96" stroke="#231f20" stroke-width="1.1" stroke-linecap="butt"/>
<text x="75.70" y="259.23" font-size="6.3" text-anchor="end" font-weight="normal" fill="#3c3c3c" stroke="#3c3c3c" stroke-width="0.12" textLength="6.40" lengthAdjust="spacingAndGlyphs">20</text>
<line x1="79.30" y1="277.40" x2="82.30" y2="277.40" stroke="#231f20" stroke-width="1.1" stroke-linecap="butt"/>
<text x="75.70" y="279.67" font-size="6.3" text-anchor="end" font-weight="normal" fill="#3c3c3c" stroke="#3c3c3c" stroke-width="0.12" textLength="3.20" lengthAdjust="spacingAndGlyphs">0</text>
<line x1="81.75" y1="277.40" x2="235.20" y2="277.40" stroke="#231f20" stroke-width="1.1" stroke-linecap="butt"/>
<line x1="82.20" y1="277.40" x2="82.20" y2="280.20" stroke="#231f20" stroke-width="1.1" stroke-linecap="butt"/>
<text x="82.20" y="290.00" font-size="6.5" text-anchor="middle" font-weight="normal" fill="#3c3c3c" stroke="#3c3c3c" stroke-width="0.12">0</text>
<line x1="116.40" y1="277.40" x2="116.40" y2="280.20" stroke="#231f20" stroke-width="1.1" stroke-linecap="butt"/>
<text x="116.40" y="290.00" font-size="6.5" text-anchor="middle" font-weight="normal" fill="#3c3c3c" stroke="#3c3c3c" stroke-width="0.12">6</text>
<line x1="150.60" y1="277.40" x2="150.60" y2="280.20" stroke="#231f20" stroke-width="1.1" stroke-linecap="butt"/>
<text x="150.60" y="290.00" font-size="6.5" text-anchor="middle" font-weight="normal" fill="#3c3c3c" stroke="#3c3c3c" stroke-width="0.12">12</text>
<line x1="184.80" y1="277.40" x2="184.80" y2="280.20" stroke="#231f20" stroke-width="1.1" stroke-linecap="butt"/>
<text x="184.80" y="290.00" font-size="6.5" text-anchor="middle" font-weight="normal" fill="#3c3c3c" stroke="#3c3c3c" stroke-width="0.12">18</text>
<line x1="219.00" y1="277.40" x2="219.00" y2="280.20" stroke="#231f20" stroke-width="1.1" stroke-linecap="butt"/>
<text x="219.00" y="290.00" font-size="6.5" text-anchor="middle" font-weight="normal" fill="#3c3c3c" stroke="#3c3c3c" stroke-width="0.12">24</text>
<text x="159.40" y="302.30" font-size="8.6" text-anchor="middle" font-weight="normal" fill="#333333" stroke="#333333" stroke-width="0.13" textLength="68.10" lengthAdjust="spacingAndGlyphs">Weeks post-transplant</text>
<text x="49.20" y="225.40" font-size="9.4" text-anchor="middle" font-weight="normal" fill="#333333" stroke="#333333" stroke-width="0.13" textLength="44.20" lengthAdjust="spacingAndGlyphs" transform="rotate(-90 49.20 225.40)">Donor-derived</text>
<text x="58.70" y="225.40" font-size="9.4" text-anchor="middle" font-weight="normal" fill="#333333" stroke="#333333" stroke-width="0.13" textLength="72.70" lengthAdjust="spacingAndGlyphs" transform="rotate(-90 58.70 225.40)">chimerism (%CD45.2<tspan font-size="5" dy="-3">+</tspan><tspan dy="3">)</tspan></text>
<polyline points="82.20,197.68 116.40,246.23 150.60,257.78 184.80,261.25 219.00,266.06" fill="none" stroke="#c8283c" stroke-width="1.1" stroke-dasharray="2.6,1.8"/>
<line x1="116.40" y1="240.73" x2="116.40" y2="251.73" stroke="#c8283c" stroke-width="0.9" stroke-linecap="butt"/>
<line x1="114.40" y1="240.73" x2="118.40" y2="240.73" stroke="#c8283c" stroke-width="0.9" stroke-linecap="butt"/>
<line x1="114.40" y1="251.73" x2="118.40" y2="251.73" stroke="#c8283c" stroke-width="0.9" stroke-linecap="butt"/>
<line x1="150.60" y1="252.78" x2="150.60" y2="262.78" stroke="#c8283c" stroke-width="0.9" stroke-linecap="butt"/>
<line x1="148.60" y1="252.78" x2="152.60" y2="252.78" stroke="#c8283c" stroke-width="0.9" stroke-linecap="butt"/>
<line x1="148.60" y1="262.78" x2="152.60" y2="262.78" stroke="#c8283c" stroke-width="0.9" stroke-linecap="butt"/>
<line x1="184.80" y1="256.25" x2="184.80" y2="266.25" stroke="#c8283c" stroke-width="0.9" stroke-linecap="butt"/>
<line x1="182.80" y1="256.25" x2="186.80" y2="256.25" stroke="#c8283c" stroke-width="0.9" stroke-linecap="butt"/>
<line x1="182.80" y1="266.25" x2="186.80" y2="266.25" stroke="#c8283c" stroke-width="0.9" stroke-linecap="butt"/>
<line x1="219.00" y1="263.56" x2="219.00" y2="268.56" stroke="#c8283c" stroke-width="0.9" stroke-linecap="butt"/>
<line x1="217.00" y1="263.56" x2="221.00" y2="263.56" stroke="#c8283c" stroke-width="0.9" stroke-linecap="butt"/>
<line x1="217.00" y1="268.56" x2="221.00" y2="268.56" stroke="#c8283c" stroke-width="0.9" stroke-linecap="butt"/>
<rect x="80.60" y="196.08" width="3.2" height="3.2" fill="white" stroke="#c8283c" stroke-width="0.9"/>
<rect x="114.80" y="244.63" width="3.2" height="3.2" fill="white" stroke="#c8283c" stroke-width="0.9"/>
<rect x="149.00" y="256.18" width="3.2" height="3.2" fill="white" stroke="#c8283c" stroke-width="0.9"/>
<rect x="183.20" y="259.65" width="3.2" height="3.2" fill="white" stroke="#c8283c" stroke-width="0.9"/>
<rect x="217.40" y="264.46" width="3.2" height="3.2" fill="white" stroke="#c8283c" stroke-width="0.9"/>
<polyline points="82.20,197.68 116.40,234.78 150.60,248.58 184.80,247.35 219.00,250.01" fill="none" stroke="#3d6699" stroke-width="1.1" stroke-dasharray="2.6,1.8"/>
<line x1="116.40" y1="230.28" x2="116.40" y2="239.28" stroke="#3d6699" stroke-width="0.9" stroke-linecap="butt"/>
<line x1="114.40" y1="230.28" x2="118.40" y2="230.28" stroke="#3d6699" stroke-width="0.9" stroke-linecap="butt"/>
<line x1="114.40" y1="239.28" x2="118.40" y2="239.28" stroke="#3d6699" stroke-width="0.9" stroke-linecap="butt"/>
<line x1="150.60" y1="244.38" x2="150.60" y2="252.78" stroke="#3d6699" stroke-width="0.9" stroke-linecap="butt"/>
<line x1="148.60" y1="244.38" x2="152.60" y2="244.38" stroke="#3d6699" stroke-width="0.9" stroke-linecap="butt"/>
<line x1="148.60" y1="252.78" x2="152.60" y2="252.78" stroke="#3d6699" stroke-width="0.9" stroke-linecap="butt"/>
<line x1="184.80" y1="243.15" x2="184.80" y2="251.55" stroke="#3d6699" stroke-width="0.9" stroke-linecap="butt"/>
<line x1="182.80" y1="243.15" x2="186.80" y2="243.15" stroke="#3d6699" stroke-width="0.9" stroke-linecap="butt"/>
<line x1="182.80" y1="251.55" x2="186.80" y2="251.55" stroke="#3d6699" stroke-width="0.9" stroke-linecap="butt"/>
<line x1="219.00" y1="245.61" x2="219.00" y2="254.41" stroke="#3d6699" stroke-width="0.9" stroke-linecap="butt"/>
<line x1="217.00" y1="245.61" x2="221.00" y2="245.61" stroke="#3d6699" stroke-width="0.9" stroke-linecap="butt"/>
<line x1="217.00" y1="254.41" x2="221.00" y2="254.41" stroke="#3d6699" stroke-width="0.9" stroke-linecap="butt"/>
<circle cx="82.20" cy="197.68" r="1.7" fill="white" stroke="#3d6699" stroke-width="0.9"/>
<circle cx="116.40" cy="234.78" r="1.7" fill="white" stroke="#3d6699" stroke-width="0.9"/>
<circle cx="150.60" cy="248.58" r="1.7" fill="white" stroke="#3d6699" stroke-width="0.9"/>
<circle cx="184.80" cy="247.35" r="1.7" fill="white" stroke="#3d6699" stroke-width="0.9"/>
<circle cx="219.00" cy="250.01" r="1.7" fill="white" stroke="#3d6699" stroke-width="0.9"/>
<polyline points="82.20,226.30 116.40,213.22 150.60,219.15 184.80,214.55 219.00,213.22" fill="none" stroke="#3d6699" stroke-width="1.1"/>
<line x1="116.40" y1="209.82" x2="116.40" y2="216.62" stroke="#3d6699" stroke-width="0.9" stroke-linecap="butt"/>
<line x1="114.40" y1="209.82" x2="118.40" y2="209.82" stroke="#3d6699" stroke-width="0.9" stroke-linecap="butt"/>
<line x1="114.40" y1="216.62" x2="118.40" y2="216.62" stroke="#3d6699" stroke-width="0.9" stroke-linecap="butt"/>
<line x1="150.60" y1="215.15" x2="150.60" y2="223.15" stroke="#3d6699" stroke-width="0.9" stroke-linecap="butt"/>
<line x1="148.60" y1="215.15" x2="152.60" y2="215.15" stroke="#3d6699" stroke-width="0.9" stroke-linecap="butt"/>
<line x1="148.60" y1="223.15" x2="152.60" y2="223.15" stroke="#3d6699" stroke-width="0.9" stroke-linecap="butt"/>
<line x1="184.80" y1="210.95" x2="184.80" y2="218.15" stroke="#3d6699" stroke-width="0.9" stroke-linecap="butt"/>
<line x1="182.80" y1="210.95" x2="186.80" y2="210.95" stroke="#3d6699" stroke-width="0.9" stroke-linecap="butt"/>
<line x1="182.80" y1="218.15" x2="186.80" y2="218.15" stroke="#3d6699" stroke-width="0.9" stroke-linecap="butt"/>
<line x1="219.00" y1="208.62" x2="219.00" y2="217.82" stroke="#3d6699" stroke-width="0.9" stroke-linecap="butt"/>
<line x1="217.00" y1="208.62" x2="221.00" y2="208.62" stroke="#3d6699" stroke-width="0.9" stroke-linecap="butt"/>
<line x1="217.00" y1="217.82" x2="221.00" y2="217.82" stroke="#3d6699" stroke-width="0.9" stroke-linecap="butt"/>
<circle cx="82.20" cy="226.30" r="1.7" fill="#3d6699"/>
<circle cx="116.40" cy="213.22" r="1.7" fill="#3d6699"/>
<circle cx="150.60" cy="219.15" r="1.7" fill="#3d6699"/>
<circle cx="184.80" cy="214.55" r="1.7" fill="#3d6699"/>
<circle cx="219.00" cy="213.22" r="1.7" fill="#3d6699"/>
<polyline points="82.20,225.28 116.40,224.77 150.60,228.75 184.80,230.08 219.00,232.23" fill="none" stroke="#c8283c" stroke-width="1.1"/>
<line x1="116.40" y1="220.97" x2="116.40" y2="228.57" stroke="#c8283c" stroke-width="0.9" stroke-linecap="butt"/>
<line x1="114.40" y1="220.97" x2="118.40" y2="220.97" stroke="#c8283c" stroke-width="0.9" stroke-linecap="butt"/>
<line x1="114.40" y1="228.57" x2="118.40" y2="228.57" stroke="#c8283c" stroke-width="0.9" stroke-linecap="butt"/>
<line x1="150.60" y1="225.55" x2="150.60" y2="231.95" stroke="#c8283c" stroke-width="0.9" stroke-linecap="butt"/>
<line x1="148.60" y1="225.55" x2="152.60" y2="225.55" stroke="#c8283c" stroke-width="0.9" stroke-linecap="butt"/>
<line x1="148.60" y1="231.95" x2="152.60" y2="231.95" stroke="#c8283c" stroke-width="0.9" stroke-linecap="butt"/>
<line x1="184.80" y1="226.28" x2="184.80" y2="233.88" stroke="#c8283c" stroke-width="0.9" stroke-linecap="butt"/>
<line x1="182.80" y1="226.28" x2="186.80" y2="226.28" stroke="#c8283c" stroke-width="0.9" stroke-linecap="butt"/>
<line x1="182.80" y1="233.88" x2="186.80" y2="233.88" stroke="#c8283c" stroke-width="0.9" stroke-linecap="butt"/>
<line x1="219.00" y1="226.63" x2="219.00" y2="237.83" stroke="#c8283c" stroke-width="0.9" stroke-linecap="butt"/>
<line x1="217.00" y1="226.63" x2="221.00" y2="226.63" stroke="#c8283c" stroke-width="0.9" stroke-linecap="butt"/>
<line x1="217.00" y1="237.83" x2="221.00" y2="237.83" stroke="#c8283c" stroke-width="0.9" stroke-linecap="butt"/>
<rect x="80.60" y="223.68" width="3.2" height="3.2" fill="#c8283c"/>
<rect x="114.80" y="223.17" width="3.2" height="3.2" fill="#c8283c"/>
<rect x="149.00" y="227.15" width="3.2" height="3.2" fill="#c8283c"/>
<rect x="183.20" y="228.48" width="3.2" height="3.2" fill="#c8283c"/>
<rect x="217.40" y="230.63" width="3.2" height="3.2" fill="#c8283c"/>
<circle cx="82.20" cy="225.28" r="2.0" fill="#c8283c"/>
<circle cx="82.20" cy="197.68" r="1.9" fill="white" stroke="#4a5a8a" stroke-width="1.0"/>
<polyline points="189.70,216.20 192.30,216.20 192.30,228.20 189.70,228.20" fill="none" stroke="#2a2a2a" stroke-width="1.0"/>
<ellipse cx="197.50" cy="222.40" rx="1.15" ry="1.0" fill="#2a2a2a"/>
<polyline points="224.50,212.50 227.10,212.50 227.10,236.20 224.50,236.20" fill="none" stroke="#2a2a2a" stroke-width="1.0"/>
<ellipse cx="232.30" cy="224.60" rx="1.15" ry="1.0" fill="#2a2a2a"/>
<polyline points="224.50,248.90 227.10,248.90 227.10,265.00 224.50,265.00" fill="none" stroke="#2a2a2a" stroke-width="1.0"/>
<ellipse cx="232.30" cy="257.50" rx="1.15" ry="1.0" fill="#2a2a2a"/>
<line x1="100.40" y1="178.90" x2="111.70" y2="178.90" stroke="#3d6699" stroke-width="1.1" stroke-linecap="butt"/>
<circle cx="106.30" cy="178.90" r="1.6" fill="#3d6699"/>
<text x="115.90" y="181.00" font-size="6.2" text-anchor="start" font-weight="normal" fill="#333333" stroke="#333333" stroke-width="0.13" textLength="29.80" lengthAdjust="spacingAndGlyphs">WT Vehicle</text>
<line x1="100.40" y1="188.10" x2="111.70" y2="188.10" stroke="#3d6699" stroke-width="1.0" stroke-dasharray="1.6,1.6" stroke-linecap="butt"/>
<circle cx="106.30" cy="188.10" r="1.5" fill="white" stroke="#3d6699" stroke-width="0.9"/>
<text x="115.90" y="190.20" font-size="6.2" text-anchor="start" font-weight="normal" fill="#333333" stroke="#333333" stroke-width="0.13" textLength="28.20" lengthAdjust="spacingAndGlyphs">WT G-CSF</text>
<line x1="158.80" y1="179.00" x2="169.80" y2="179.00" stroke="#c8283c" stroke-width="1.1" stroke-linecap="butt"/>
<rect x="162.70" y="177.50" width="3.0" height="3.0" fill="#c8283c"/>
<text x="173.50" y="181.30" font-size="6.2" text-anchor="start" font-weight="normal" fill="#333333" stroke="#333333" stroke-width="0.13" textLength="15.50" lengthAdjust="spacingAndGlyphs" font-style="italic">Cd53</text>
<text x="189.60" y="178.60" font-size="3.6" text-anchor="start" font-weight="normal" fill="#333333" stroke="#333333" stroke-width="0.13" textLength="5.20" lengthAdjust="spacingAndGlyphs">–/–</text>
<text x="196.30" y="181.30" font-size="6.2" text-anchor="start" font-weight="normal" fill="#333333" stroke="#333333" stroke-width="0.13" textLength="20.00" lengthAdjust="spacingAndGlyphs">Vehicle</text>
<line x1="158.80" y1="187.00" x2="169.80" y2="187.00" stroke="#c8283c" stroke-width="1.0" stroke-dasharray="1.6,1.6" stroke-linecap="butt"/>
<rect x="162.80" y="185.60" width="2.8" height="2.8" fill="white" stroke="#c8283c" stroke-width="0.9"/>
<text x="173.50" y="189.60" font-size="6.2" text-anchor="start" font-weight="normal" fill="#333333" stroke="#333333" stroke-width="0.13" textLength="15.50" lengthAdjust="spacingAndGlyphs" font-style="italic">Cd53</text>
<text x="189.60" y="186.90" font-size="3.6" text-anchor="start" font-weight="normal" fill="#333333" stroke="#333333" stroke-width="0.13" textLength="5.20" lengthAdjust="spacingAndGlyphs">–/–</text>
<text x="196.50" y="189.60" font-size="6.2" text-anchor="start" font-weight="normal" fill="#333333" stroke="#333333" stroke-width="0.13" textLength="17.30" lengthAdjust="spacingAndGlyphs">G-CSF</text>
<line x1="293.30" y1="172.40" x2="293.30" y2="277.95" stroke="#231f20" stroke-width="1.1" stroke-linecap="butt"/>
<line x1="290.30" y1="175.00" x2="293.30" y2="175.00" stroke="#231f20" stroke-width="1.1" stroke-linecap="butt"/>
<text x="286.80" y="177.41" font-size="6.7" text-anchor="end" font-weight="normal" fill="#3c3c3c" stroke="#3c3c3c" stroke-width="0.12" textLength="10.50" lengthAdjust="spacingAndGlyphs">100</text>
<line x1="290.30" y1="195.48" x2="293.30" y2="195.48" stroke="#231f20" stroke-width="1.1" stroke-linecap="butt"/>
<text x="286.80" y="197.89" font-size="6.7" text-anchor="end" font-weight="normal" fill="#3c3c3c" stroke="#3c3c3c" stroke-width="0.12" textLength="7.00" lengthAdjust="spacingAndGlyphs">80</text>
<line x1="290.30" y1="215.96" x2="293.30" y2="215.96" stroke="#231f20" stroke-width="1.1" stroke-linecap="butt"/>
<text x="286.80" y="218.37" font-size="6.7" text-anchor="end" font-weight="normal" fill="#3c3c3c" stroke="#3c3c3c" stroke-width="0.12" textLength="7.00" lengthAdjust="spacingAndGlyphs">60</text>
<line x1="290.30" y1="236.44" x2="293.30" y2="236.44" stroke="#231f20" stroke-width="1.1" stroke-linecap="butt"/>
<text x="286.80" y="238.85" font-size="6.7" text-anchor="end" font-weight="normal" fill="#3c3c3c" stroke="#3c3c3c" stroke-width="0.12" textLength="7.00" lengthAdjust="spacingAndGlyphs">40</text>
<line x1="290.30" y1="256.92" x2="293.30" y2="256.92" stroke="#231f20" stroke-width="1.1" stroke-linecap="butt"/>
<text x="286.80" y="259.33" font-size="6.7" text-anchor="end" font-weight="normal" fill="#3c3c3c" stroke="#3c3c3c" stroke-width="0.12" textLength="7.00" lengthAdjust="spacingAndGlyphs">20</text>
<line x1="290.30" y1="277.40" x2="293.30" y2="277.40" stroke="#231f20" stroke-width="1.1" stroke-linecap="butt"/>
<text x="286.80" y="279.81" font-size="6.7" text-anchor="end" font-weight="normal" fill="#3c3c3c" stroke="#3c3c3c" stroke-width="0.12" textLength="3.50" lengthAdjust="spacingAndGlyphs">0</text>
<line x1="292.75" y1="277.40" x2="445.50" y2="277.40" stroke="#231f20" stroke-width="1.1" stroke-linecap="butt"/>
<line x1="317.60" y1="277.40" x2="317.60" y2="280.20" stroke="#231f20" stroke-width="1.1" stroke-linecap="butt"/>
<line x1="369.90" y1="277.40" x2="369.90" y2="280.20" stroke="#231f20" stroke-width="1.1" stroke-linecap="butt"/>
<line x1="422.20" y1="277.40" x2="422.20" y2="280.20" stroke="#231f20" stroke-width="1.1" stroke-linecap="butt"/>
<text x="317.70" y="289.60" font-size="7.0" text-anchor="middle" font-weight="normal" fill="#333333" stroke="#333333" stroke-width="0.13" textLength="24.30" lengthAdjust="spacingAndGlyphs">Myeloid</text>
<text x="370.00" y="289.60" font-size="7.0" text-anchor="middle" font-weight="normal" fill="#333333" stroke="#333333" stroke-width="0.13" textLength="20.80" lengthAdjust="spacingAndGlyphs">B Cells</text>
<text x="422.60" y="289.60" font-size="7.0" text-anchor="middle" font-weight="normal" fill="#333333" stroke="#333333" stroke-width="0.13" textLength="19.80" lengthAdjust="spacingAndGlyphs">T Cells</text>
<text x="260.60" y="225.00" font-size="8.5" text-anchor="middle" font-weight="normal" fill="#333333" stroke="#333333" stroke-width="0.13" textLength="72.70" lengthAdjust="spacingAndGlyphs" transform="rotate(-90 260.60 225.00)">24 week donor-derived</text>
<text x="270.20" y="225.00" font-size="8.5" text-anchor="middle" font-weight="normal" fill="#333333" stroke="#333333" stroke-width="0.13" textLength="73.70" lengthAdjust="spacingAndGlyphs" transform="rotate(-90 270.20 225.00)">chimerism (%CD45.2<tspan font-size="5" dy="-3">+</tspan><tspan dy="3">)</tspan></text>
<rect x="297.30" y="205.70" width="6.80" height="71.70" fill="#7689c0" stroke="#3f5d8e" stroke-width="1.0"/>
<rect x="308.70" y="227.80" width="6.80" height="49.60" fill="#ee6e6e" stroke="#c02a3a" stroke-width="1.0"/>
<rect x="320.10" y="253.70" width="6.80" height="23.70" fill="#c3c4e4" stroke="#3f5d8e" stroke-width="1.0"/>
<rect x="331.50" y="262.40" width="6.80" height="15.00" fill="#f4c0bc" stroke="#c02a3a" stroke-width="1.0"/>
<circle cx="300.61" cy="176.78" r="1.7" fill="#2b5088"/>
<circle cx="298.43" cy="182.21" r="1.7" fill="#2b5088"/>
<circle cx="302.06" cy="183.12" r="1.7" fill="#2b5088"/>
<circle cx="299.88" cy="184.57" r="1.7" fill="#2b5088"/>
<circle cx="302.96" cy="186.38" r="1.7" fill="#2b5088"/>
<circle cx="297.53" cy="188.19" r="1.7" fill="#2b5088"/>
<circle cx="301.15" cy="189.46" r="1.7" fill="#2b5088"/>
<circle cx="299.34" cy="191.27" r="1.7" fill="#2b5088"/>
<circle cx="302.96" cy="192.17" r="1.7" fill="#2b5088"/>
<circle cx="298.43" cy="194.89" r="1.7" fill="#2b5088"/>
<circle cx="301.15" cy="196.70" r="1.7" fill="#2b5088"/>
<circle cx="298.07" cy="198.51" r="1.7" fill="#2b5088"/>
<circle cx="302.06" cy="199.42" r="1.7" fill="#2b5088"/>
<circle cx="300.25" cy="201.23" r="1.7" fill="#2b5088"/>
<circle cx="298.43" cy="203.95" r="1.7" fill="#2b5088"/>
<circle cx="301.15" cy="205.76" r="1.7" fill="#2b5088"/>
<circle cx="300.25" cy="220.25" r="1.7" fill="#2b5088"/>
<circle cx="301.15" cy="239.28" r="1.7" fill="#2b5088"/>
<circle cx="300.25" cy="247.43" r="1.7" fill="#2b5088"/>
<circle cx="300.61" cy="262.83" r="1.7" fill="#2b5088"/>
<circle cx="299.88" cy="265.54" r="1.7" fill="#2b5088"/>
<rect x="307.70" y="190.21" width="3.2" height="3.2" fill="#cc2a3c"/>
<rect x="310.42" y="190.21" width="3.2" height="3.2" fill="#cc2a3c"/>
<rect x="308.61" y="196.01" width="3.2" height="3.2" fill="#cc2a3c"/>
<rect x="310.97" y="196.01" width="3.2" height="3.2" fill="#cc2a3c"/>
<rect x="309.52" y="212.31" width="3.2" height="3.2" fill="#cc2a3c"/>
<rect x="308.61" y="215.94" width="3.2" height="3.2" fill="#cc2a3c"/>
<rect x="310.97" y="221.37" width="3.2" height="3.2" fill="#cc2a3c"/>
<rect x="309.52" y="231.33" width="3.2" height="3.2" fill="#cc2a3c"/>
<rect x="308.61" y="234.96" width="3.2" height="3.2" fill="#cc2a3c"/>
<rect x="309.52" y="243.11" width="3.2" height="3.2" fill="#cc2a3c"/>
<rect x="308.61" y="248.54" width="3.2" height="3.2" fill="#cc2a3c"/>
<rect x="309.52" y="255.79" width="3.2" height="3.2" fill="#cc2a3c"/>
<rect x="309.52" y="264.85" width="3.2" height="3.2" fill="#cc2a3c"/>
<rect x="308.61" y="268.47" width="3.2" height="3.2" fill="#cc2a3c"/>
<rect x="309.52" y="272.10" width="3.2" height="3.2" fill="#cc2a3c"/>
<circle cx="322.89" cy="181.30" r="1.35" fill="white" stroke="#2b5088" stroke-width="0.75"/>
<circle cx="322.89" cy="197.61" r="1.35" fill="white" stroke="#2b5088" stroke-width="0.75"/>
<circle cx="322.89" cy="225.69" r="1.35" fill="white" stroke="#2b5088" stroke-width="0.75"/>
<circle cx="322.89" cy="237.46" r="1.35" fill="white" stroke="#2b5088" stroke-width="0.75"/>
<circle cx="322.89" cy="239.28" r="1.35" fill="white" stroke="#2b5088" stroke-width="0.75"/>
<circle cx="321.99" cy="256.49" r="1.35" fill="white" stroke="#2b5088" stroke-width="0.75"/>
<circle cx="323.80" cy="266.45" r="1.35" fill="white" stroke="#2b5088" stroke-width="0.75"/>
<circle cx="321.99" cy="270.07" r="1.35" fill="white" stroke="#2b5088" stroke-width="0.75"/>
<circle cx="324.70" cy="272.79" r="1.35" fill="white" stroke="#2b5088" stroke-width="0.75"/>
<circle cx="322.89" cy="275.51" r="1.35" fill="white" stroke="#2b5088" stroke-width="0.75"/>
<rect x="332.95" y="195.35" width="2.7" height="2.7" fill="white" stroke="#cc2a3c" stroke-width="0.75"/>
<rect x="333.32" y="237.02" width="2.7" height="2.7" fill="white" stroke="#cc2a3c" stroke-width="0.75"/>
<rect x="333.32" y="239.74" width="2.7" height="2.7" fill="white" stroke="#cc2a3c" stroke-width="0.75"/>
<rect x="332.95" y="245.17" width="2.7" height="2.7" fill="white" stroke="#cc2a3c" stroke-width="0.75"/>
<rect x="333.32" y="250.61" width="2.7" height="2.7" fill="white" stroke="#cc2a3c" stroke-width="0.75"/>
<rect x="333.32" y="256.95" width="2.7" height="2.7" fill="white" stroke="#cc2a3c" stroke-width="0.75"/>
<rect x="331.87" y="268.72" width="2.7" height="2.7" fill="white" stroke="#cc2a3c" stroke-width="0.75"/>
<rect x="334.22" y="271.44" width="2.7" height="2.7" fill="white" stroke="#cc2a3c" stroke-width="0.75"/>
<rect x="332.41" y="274.16" width="2.7" height="2.7" fill="white" stroke="#cc2a3c" stroke-width="0.75"/>
<rect x="334.77" y="275.97" width="2.7" height="2.7" fill="white" stroke="#cc2a3c" stroke-width="0.75"/>
<line x1="300.70" y1="201.70" x2="300.70" y2="208.70" stroke="#3d6699" stroke-width="0.9" stroke-linecap="butt"/>
<line x1="298.90" y1="201.70" x2="302.50" y2="201.70" stroke="#3d6699" stroke-width="0.9" stroke-linecap="butt"/>
<line x1="298.90" y1="208.70" x2="302.50" y2="208.70" stroke="#3d6699" stroke-width="0.9" stroke-linecap="butt"/>
<line x1="312.10" y1="221.80" x2="312.10" y2="232.80" stroke="#c8283c" stroke-width="0.9" stroke-linecap="butt"/>
<line x1="310.30" y1="221.80" x2="313.90" y2="221.80" stroke="#c8283c" stroke-width="0.9" stroke-linecap="butt"/>
<line x1="310.30" y1="232.80" x2="313.90" y2="232.80" stroke="#c8283c" stroke-width="0.9" stroke-linecap="butt"/>
<line x1="323.50" y1="248.20" x2="323.50" y2="258.20" stroke="#3d6699" stroke-width="0.9" stroke-linecap="butt"/>
<line x1="321.70" y1="248.20" x2="325.30" y2="248.20" stroke="#3d6699" stroke-width="0.9" stroke-linecap="butt"/>
<line x1="321.70" y1="258.20" x2="325.30" y2="258.20" stroke="#3d6699" stroke-width="0.9" stroke-linecap="butt"/>
<line x1="334.90" y1="257.40" x2="334.90" y2="266.40" stroke="#c8283c" stroke-width="0.9" stroke-linecap="butt"/>
<line x1="333.10" y1="257.40" x2="336.70" y2="257.40" stroke="#c8283c" stroke-width="0.9" stroke-linecap="butt"/>
<line x1="333.10" y1="266.40" x2="336.70" y2="266.40" stroke="#c8283c" stroke-width="0.9" stroke-linecap="butt"/>
<rect x="349.60" y="207.20" width="6.80" height="70.20" fill="#7689c0" stroke="#3f5d8e" stroke-width="1.0"/>
<rect x="361.00" y="227.10" width="6.80" height="50.30" fill="#ee6e6e" stroke="#c02a3a" stroke-width="1.0"/>
<rect x="372.40" y="249.70" width="6.80" height="27.70" fill="#c3c4e4" stroke="#3f5d8e" stroke-width="1.0"/>
<rect x="383.80" y="267.90" width="6.80" height="9.50" fill="#f4c0bc" stroke="#c02a3a" stroke-width="1.0"/>
<circle cx="350.43" cy="182.21" r="1.7" fill="#2b5088"/>
<circle cx="353.15" cy="183.12" r="1.7" fill="#2b5088"/>
<circle cx="354.96" cy="184.02" r="1.7" fill="#2b5088"/>
<circle cx="350.43" cy="185.83" r="1.7" fill="#2b5088"/>
<circle cx="352.25" cy="187.64" r="1.7" fill="#2b5088"/>
<circle cx="354.06" cy="188.55" r="1.7" fill="#2b5088"/>
<circle cx="351.34" cy="190.36" r="1.7" fill="#2b5088"/>
<circle cx="354.96" cy="192.17" r="1.7" fill="#2b5088"/>
<circle cx="351.34" cy="194.89" r="1.7" fill="#2b5088"/>
<circle cx="353.15" cy="195.80" r="1.7" fill="#2b5088"/>
<circle cx="352.25" cy="201.23" r="1.7" fill="#2b5088"/>
<circle cx="353.15" cy="203.04" r="1.7" fill="#2b5088"/>
<circle cx="352.25" cy="211.20" r="1.7" fill="#2b5088"/>
<circle cx="352.25" cy="215.72" r="1.7" fill="#2b5088"/>
<circle cx="352.25" cy="233.84" r="1.7" fill="#2b5088"/>
<circle cx="352.25" cy="256.49" r="1.7" fill="#2b5088"/>
<circle cx="352.25" cy="268.26" r="1.7" fill="#2b5088"/>
<rect x="362.42" y="184.78" width="3.2" height="3.2" fill="#cc2a3c"/>
<rect x="362.42" y="191.48" width="3.2" height="3.2" fill="#cc2a3c"/>
<rect x="360.61" y="201.44" width="3.2" height="3.2" fill="#cc2a3c"/>
<rect x="364.78" y="204.16" width="3.2" height="3.2" fill="#cc2a3c"/>
<rect x="360.61" y="217.75" width="3.2" height="3.2" fill="#cc2a3c"/>
<rect x="364.78" y="217.75" width="3.2" height="3.2" fill="#cc2a3c"/>
<rect x="361.52" y="223.18" width="3.2" height="3.2" fill="#cc2a3c"/>
<rect x="363.33" y="225.90" width="3.2" height="3.2" fill="#cc2a3c"/>
<rect x="361.52" y="233.15" width="3.2" height="3.2" fill="#cc2a3c"/>
<rect x="365.14" y="234.96" width="3.2" height="3.2" fill="#cc2a3c"/>
<rect x="361.52" y="239.49" width="3.2" height="3.2" fill="#cc2a3c"/>
<rect x="363.33" y="243.11" width="3.2" height="3.2" fill="#cc2a3c"/>
<rect x="361.52" y="248.54" width="3.2" height="3.2" fill="#cc2a3c"/>
<rect x="363.33" y="253.98" width="3.2" height="3.2" fill="#cc2a3c"/>
<rect x="361.52" y="264.85" width="3.2" height="3.2" fill="#cc2a3c"/>
<rect x="363.33" y="273.91" width="3.2" height="3.2" fill="#cc2a3c"/>
<circle cx="375.80" cy="199.42" r="1.35" fill="white" stroke="#2b5088" stroke-width="0.75"/>
<circle cx="375.80" cy="221.16" r="1.35" fill="white" stroke="#2b5088" stroke-width="0.75"/>
<circle cx="375.80" cy="225.69" r="1.35" fill="white" stroke="#2b5088" stroke-width="0.75"/>
<circle cx="375.80" cy="230.22" r="1.35" fill="white" stroke="#2b5088" stroke-width="0.75"/>
<circle cx="375.80" cy="235.65" r="1.35" fill="white" stroke="#2b5088" stroke-width="0.75"/>
<circle cx="374.89" cy="251.96" r="1.35" fill="white" stroke="#2b5088" stroke-width="0.75"/>
<circle cx="375.80" cy="255.58" r="1.35" fill="white" stroke="#2b5088" stroke-width="0.75"/>
<circle cx="373.99" cy="261.01" r="1.35" fill="white" stroke="#2b5088" stroke-width="0.75"/>
<circle cx="376.70" cy="264.64" r="1.35" fill="white" stroke="#2b5088" stroke-width="0.75"/>
<circle cx="374.89" cy="269.17" r="1.35" fill="white" stroke="#2b5088" stroke-width="0.75"/>
<circle cx="376.16" cy="271.88" r="1.35" fill="white" stroke="#2b5088" stroke-width="0.75"/>
<circle cx="373.99" cy="274.60" r="1.35" fill="white" stroke="#2b5088" stroke-width="0.75"/>
<rect x="385.32" y="237.02" width="2.7" height="2.7" fill="white" stroke="#cc2a3c" stroke-width="0.75"/>
<rect x="385.32" y="244.27" width="2.7" height="2.7" fill="white" stroke="#cc2a3c" stroke-width="0.75"/>
<rect x="384.95" y="256.04" width="2.7" height="2.7" fill="white" stroke="#cc2a3c" stroke-width="0.75"/>
<rect x="386.77" y="257.85" width="2.7" height="2.7" fill="white" stroke="#cc2a3c" stroke-width="0.75"/>
<rect x="386.22" y="267.82" width="2.7" height="2.7" fill="white" stroke="#cc2a3c" stroke-width="0.75"/>
<rect x="384.41" y="270.53" width="2.7" height="2.7" fill="white" stroke="#cc2a3c" stroke-width="0.75"/>
<rect x="387.13" y="272.35" width="2.7" height="2.7" fill="white" stroke="#cc2a3c" stroke-width="0.75"/>
<rect x="385.32" y="274.16" width="2.7" height="2.7" fill="white" stroke="#cc2a3c" stroke-width="0.75"/>
<line x1="353.00" y1="202.70" x2="353.00" y2="210.70" stroke="#3d6699" stroke-width="0.9" stroke-linecap="butt"/>
<line x1="351.20" y1="202.70" x2="354.80" y2="202.70" stroke="#3d6699" stroke-width="0.9" stroke-linecap="butt"/>
<line x1="351.20" y1="210.70" x2="354.80" y2="210.70" stroke="#3d6699" stroke-width="0.9" stroke-linecap="butt"/>
<line x1="364.40" y1="221.60" x2="364.40" y2="231.60" stroke="#c8283c" stroke-width="0.9" stroke-linecap="butt"/>
<line x1="362.60" y1="221.60" x2="366.20" y2="221.60" stroke="#c8283c" stroke-width="0.9" stroke-linecap="butt"/>
<line x1="362.60" y1="231.60" x2="366.20" y2="231.60" stroke="#c8283c" stroke-width="0.9" stroke-linecap="butt"/>
<line x1="375.80" y1="244.70" x2="375.80" y2="253.70" stroke="#3d6699" stroke-width="0.9" stroke-linecap="butt"/>
<line x1="374.00" y1="244.70" x2="377.60" y2="244.70" stroke="#3d6699" stroke-width="0.9" stroke-linecap="butt"/>
<line x1="374.00" y1="253.70" x2="377.60" y2="253.70" stroke="#3d6699" stroke-width="0.9" stroke-linecap="butt"/>
<line x1="387.20" y1="264.40" x2="387.20" y2="270.40" stroke="#c8283c" stroke-width="0.9" stroke-linecap="butt"/>
<line x1="385.40" y1="264.40" x2="389.00" y2="264.40" stroke="#c8283c" stroke-width="0.9" stroke-linecap="butt"/>
<line x1="385.40" y1="270.40" x2="389.00" y2="270.40" stroke="#c8283c" stroke-width="0.9" stroke-linecap="butt"/>
<rect x="402.50" y="231.60" width="6.80" height="45.80" fill="#7689c0" stroke="#3f5d8e" stroke-width="1.0"/>
<rect x="413.90" y="235.60" width="6.80" height="41.80" fill="#ee6e6e" stroke="#c02a3a" stroke-width="1.0"/>
<rect x="425.30" y="261.70" width="6.80" height="15.70" fill="#c3c4e4" stroke="#3f5d8e" stroke-width="1.0"/>
<rect x="436.70" y="271.50" width="6.80" height="5.90" fill="#f4c0bc" stroke="#c02a3a" stroke-width="1.0"/>
<circle cx="405.70" cy="189.70" r="1.7" fill="#2b5088"/>
<circle cx="405.70" cy="210.50" r="1.7" fill="#2b5088"/>
<circle cx="403.35" cy="215.05" r="1.7" fill="#2b5088"/>
<circle cx="407.36" cy="215.72" r="1.7" fill="#2b5088"/>
<circle cx="403.35" cy="218.40" r="1.7" fill="#2b5088"/>
<circle cx="405.35" cy="219.73" r="1.7" fill="#2b5088"/>
<circle cx="407.36" cy="220.40" r="1.7" fill="#2b5088"/>
<circle cx="404.02" cy="221.74" r="1.7" fill="#2b5088"/>
<circle cx="406.02" cy="223.07" r="1.7" fill="#2b5088"/>
<circle cx="404.68" cy="223.74" r="1.7" fill="#2b5088"/>
<circle cx="406.69" cy="230.03" r="1.7" fill="#2b5088"/>
<circle cx="406.02" cy="235.11" r="1.7" fill="#2b5088"/>
<circle cx="406.02" cy="248.48" r="1.7" fill="#2b5088"/>
<circle cx="406.02" cy="255.16" r="1.7" fill="#2b5088"/>
<circle cx="406.02" cy="264.52" r="1.7" fill="#2b5088"/>
<circle cx="406.02" cy="271.87" r="1.7" fill="#2b5088"/>
<rect x="415.30" y="195.20" width="3.2" height="3.2" fill="#cc2a3c"/>
<rect x="415.30" y="202.40" width="3.2" height="3.2" fill="#cc2a3c"/>
<rect x="415.12" y="217.46" width="3.2" height="3.2" fill="#cc2a3c"/>
<rect x="413.11" y="221.47" width="3.2" height="3.2" fill="#cc2a3c"/>
<rect x="417.12" y="221.47" width="3.2" height="3.2" fill="#cc2a3c"/>
<rect x="415.12" y="222.14" width="3.2" height="3.2" fill="#cc2a3c"/>
<rect x="415.12" y="237.52" width="3.2" height="3.2" fill="#cc2a3c"/>
<rect x="416.45" y="241.53" width="3.2" height="3.2" fill="#cc2a3c"/>
<rect x="415.12" y="246.88" width="3.2" height="3.2" fill="#cc2a3c"/>
<rect x="413.78" y="252.22" width="3.2" height="3.2" fill="#cc2a3c"/>
<rect x="416.45" y="257.57" width="3.2" height="3.2" fill="#cc2a3c"/>
<rect x="415.12" y="266.93" width="3.2" height="3.2" fill="#cc2a3c"/>
<circle cx="428.08" cy="230.03" r="1.35" fill="white" stroke="#2b5088" stroke-width="0.75"/>
<circle cx="428.08" cy="241.12" r="1.35" fill="white" stroke="#2b5088" stroke-width="0.75"/>
<circle cx="427.14" cy="244.47" r="1.35" fill="white" stroke="#2b5088" stroke-width="0.75"/>
<circle cx="428.75" cy="245.13" r="1.35" fill="white" stroke="#2b5088" stroke-width="0.75"/>
<circle cx="426.74" cy="263.18" r="1.35" fill="white" stroke="#2b5088" stroke-width="0.75"/>
<circle cx="429.42" cy="264.52" r="1.35" fill="white" stroke="#2b5088" stroke-width="0.75"/>
<circle cx="428.08" cy="267.19" r="1.35" fill="white" stroke="#2b5088" stroke-width="0.75"/>
<circle cx="426.74" cy="269.87" r="1.35" fill="white" stroke="#2b5088" stroke-width="0.75"/>
<circle cx="429.42" cy="271.87" r="1.35" fill="white" stroke="#2b5088" stroke-width="0.75"/>
<circle cx="428.08" cy="273.88" r="1.35" fill="white" stroke="#2b5088" stroke-width="0.75"/>
<circle cx="426.74" cy="275.88" r="1.35" fill="white" stroke="#2b5088" stroke-width="0.75"/>
<rect x="438.09" y="255.41" width="2.7" height="2.7" fill="white" stroke="#cc2a3c" stroke-width="0.75"/>
<rect x="438.09" y="266.51" width="2.7" height="2.7" fill="white" stroke="#cc2a3c" stroke-width="0.75"/>
<rect x="436.76" y="270.52" width="2.7" height="2.7" fill="white" stroke="#cc2a3c" stroke-width="0.75"/>
<rect x="439.43" y="271.19" width="2.7" height="2.7" fill="white" stroke="#cc2a3c" stroke-width="0.75"/>
<rect x="436.09" y="273.86" width="2.7" height="2.7" fill="white" stroke="#cc2a3c" stroke-width="0.75"/>
<rect x="438.76" y="274.53" width="2.7" height="2.7" fill="white" stroke="#cc2a3c" stroke-width="0.75"/>
<rect x="437.43" y="275.87" width="2.7" height="2.7" fill="white" stroke="#cc2a3c" stroke-width="0.75"/>
<line x1="405.90" y1="228.10" x2="405.90" y2="234.10" stroke="#3d6699" stroke-width="0.9" stroke-linecap="butt"/>
<line x1="404.10" y1="228.10" x2="407.70" y2="228.10" stroke="#3d6699" stroke-width="0.9" stroke-linecap="butt"/>
<line x1="404.10" y1="234.10" x2="407.70" y2="234.10" stroke="#3d6699" stroke-width="0.9" stroke-linecap="butt"/>
<line x1="417.30" y1="230.60" x2="417.30" y2="239.60" stroke="#c8283c" stroke-width="0.9" stroke-linecap="butt"/>
<line x1="415.50" y1="230.60" x2="419.10" y2="230.60" stroke="#c8283c" stroke-width="0.9" stroke-linecap="butt"/>
<line x1="415.50" y1="239.60" x2="419.10" y2="239.60" stroke="#c8283c" stroke-width="0.9" stroke-linecap="butt"/>
<line x1="428.70" y1="257.70" x2="428.70" y2="264.70" stroke="#3d6699" stroke-width="0.9" stroke-linecap="butt"/>
<line x1="426.90" y1="257.70" x2="430.50" y2="257.70" stroke="#3d6699" stroke-width="0.9" stroke-linecap="butt"/>
<line x1="426.90" y1="264.70" x2="430.50" y2="264.70" stroke="#3d6699" stroke-width="0.9" stroke-linecap="butt"/>
<line x1="440.10" y1="268.50" x2="440.10" y2="273.50" stroke="#c8283c" stroke-width="0.9" stroke-linecap="butt"/>
<line x1="438.30" y1="268.50" x2="441.90" y2="268.50" stroke="#c8283c" stroke-width="0.9" stroke-linecap="butt"/>
<line x1="438.30" y1="273.50" x2="441.90" y2="273.50" stroke="#c8283c" stroke-width="0.9" stroke-linecap="butt"/>
<polyline points="300.80,175.00 300.80,170.60 312.70,170.60 312.70,186.00" fill="none" stroke="#2a2a2a" stroke-width="1.0"/>
<ellipse cx="306.75" cy="166.10" rx="1.15" ry="1.0" fill="#2a2a2a"/>
<polyline points="353.20,180.40 353.20,177.30 364.00,177.30 364.00,181.00" fill="none" stroke="#2a2a2a" stroke-width="1.0"/>
<ellipse cx="358.60" cy="172.80" rx="1.15" ry="1.0" fill="#2a2a2a"/>
<polyline points="375.40,195.80 375.40,190.40 387.00,190.40 387.00,232.00" fill="none" stroke="#2a2a2a" stroke-width="1.0"/>
<ellipse cx="377.40" cy="185.90" rx="1.15" ry="1.0" fill="#2a2a2a"/>
<ellipse cx="381.20" cy="185.90" rx="1.15" ry="1.0" fill="#2a2a2a"/>
<ellipse cx="385.00" cy="185.90" rx="1.15" ry="1.0" fill="#2a2a2a"/>
<polyline points="428.10,224.40 428.10,222.40 439.40,222.40 439.40,251.10" fill="none" stroke="#2a2a2a" stroke-width="1.0"/>
<ellipse cx="429.95" cy="217.90" rx="1.15" ry="1.0" fill="#2a2a2a"/>
<ellipse cx="433.75" cy="217.90" rx="1.15" ry="1.0" fill="#2a2a2a"/>
<ellipse cx="437.55" cy="217.90" rx="1.15" ry="1.0" fill="#2a2a2a"/>
<circle cx="431.00" cy="169.40" r="2.1" fill="#2b5088"/>
<text x="436.30" y="171.60" font-size="6.2" text-anchor="start" font-weight="normal" fill="#333333" stroke="#333333" stroke-width="0.13" textLength="30.40" lengthAdjust="spacingAndGlyphs">WT Vehicle</text>
<rect x="429.05" y="177.05" width="3.9" height="3.9" fill="#cc2a3c"/>
<text x="436.30" y="181.60" font-size="6.2" text-anchor="start" font-weight="normal" fill="#333333" stroke="#333333" stroke-width="0.13" textLength="15.00" lengthAdjust="spacingAndGlyphs" font-style="italic">Cd53</text>
<text x="451.60" y="178.60" font-size="3.6" text-anchor="start" font-weight="normal" fill="#333333" stroke="#333333" stroke-width="0.13" textLength="5.00" lengthAdjust="spacingAndGlyphs">–/–</text>
<text x="458.60" y="181.60" font-size="6.2" text-anchor="start" font-weight="normal" fill="#333333" stroke="#333333" stroke-width="0.13" textLength="20.40" lengthAdjust="spacingAndGlyphs">Vehicle</text>
<circle cx="431.00" cy="187.50" r="1.8" fill="white" stroke="#2b5088" stroke-width="0.9"/>
<text x="436.30" y="189.50" font-size="6.2" text-anchor="start" font-weight="normal" fill="#333333" stroke="#333333" stroke-width="0.13" textLength="29.50" lengthAdjust="spacingAndGlyphs">WT G-CSF</text>
<rect x="429.30" y="195.30" width="3.4" height="3.4" fill="white" stroke="#cc2a3c" stroke-width="0.9"/>
<text x="436.30" y="199.40" font-size="6.2" text-anchor="start" font-weight="normal" fill="#333333" stroke="#333333" stroke-width="0.13" textLength="15.00" lengthAdjust="spacingAndGlyphs" font-style="italic">Cd53</text>
<text x="451.60" y="196.40" font-size="3.6" text-anchor="start" font-weight="normal" fill="#333333" stroke="#333333" stroke-width="0.13" textLength="5.00" lengthAdjust="spacingAndGlyphs">–/–</text>
<text x="458.60" y="199.40" font-size="6.2" text-anchor="start" font-weight="normal" fill="#333333" stroke="#333333" stroke-width="0.13" textLength="18.70" lengthAdjust="spacingAndGlyphs">G-CSF</text>
<text x="41.40" y="328.20" font-size="12" text-anchor="start" font-weight="bold" fill="#111" stroke="#111" stroke-width="0.13">D</text>
<line x1="82.10" y1="334.60" x2="82.10" y2="439.95" stroke="#231f20" stroke-width="1.1" stroke-linecap="butt"/>
<line x1="79.10" y1="337.10" x2="82.10" y2="337.10" stroke="#231f20" stroke-width="1.1" stroke-linecap="butt"/>
<text x="75.60" y="339.37" font-size="6.3" text-anchor="end" font-weight="normal" fill="#3c3c3c" stroke="#3c3c3c" stroke-width="0.12" textLength="9.60" lengthAdjust="spacingAndGlyphs">100</text>
<line x1="79.10" y1="357.56" x2="82.10" y2="357.56" stroke="#231f20" stroke-width="1.1" stroke-linecap="butt"/>
<text x="75.60" y="359.83" font-size="6.3" text-anchor="end" font-weight="normal" fill="#3c3c3c" stroke="#3c3c3c" stroke-width="0.12" textLength="6.40" lengthAdjust="spacingAndGlyphs">80</text>
<line x1="79.10" y1="378.02" x2="82.10" y2="378.02" stroke="#231f20" stroke-width="1.1" stroke-linecap="butt"/>
<text x="75.60" y="380.29" font-size="6.3" text-anchor="end" font-weight="normal" fill="#3c3c3c" stroke="#3c3c3c" stroke-width="0.12" textLength="6.40" lengthAdjust="spacingAndGlyphs">60</text>
<line x1="79.10" y1="398.48" x2="82.10" y2="398.48" stroke="#231f20" stroke-width="1.1" stroke-linecap="butt"/>
<text x="75.60" y="400.75" font-size="6.3" text-anchor="end" font-weight="normal" fill="#3c3c3c" stroke="#3c3c3c" stroke-width="0.12" textLength="6.40" lengthAdjust="spacingAndGlyphs">40</text>
<line x1="79.10" y1="418.94" x2="82.10" y2="418.94" stroke="#231f20" stroke-width="1.1" stroke-linecap="butt"/>
<text x="75.60" y="421.21" font-size="6.3" text-anchor="end" font-weight="normal" fill="#3c3c3c" stroke="#3c3c3c" stroke-width="0.12" textLength="6.40" lengthAdjust="spacingAndGlyphs">20</text>
<line x1="79.10" y1="439.40" x2="82.10" y2="439.40" stroke="#231f20" stroke-width="1.1" stroke-linecap="butt"/>
<text x="75.60" y="441.67" font-size="6.3" text-anchor="end" font-weight="normal" fill="#3c3c3c" stroke="#3c3c3c" stroke-width="0.12" textLength="3.20" lengthAdjust="spacingAndGlyphs">0</text>
<line x1="81.55" y1="439.40" x2="235.20" y2="439.40" stroke="#231f20" stroke-width="1.1" stroke-linecap="butt"/>
<line x1="82.10" y1="439.40" x2="82.10" y2="442.20" stroke="#231f20" stroke-width="1.1" stroke-linecap="butt"/>
<text x="82.10" y="451.60" font-size="6.5" text-anchor="middle" font-weight="normal" fill="#3c3c3c" stroke="#3c3c3c" stroke-width="0.12">0</text>
<line x1="115.90" y1="439.40" x2="115.90" y2="442.20" stroke="#231f20" stroke-width="1.1" stroke-linecap="butt"/>
<text x="115.90" y="451.60" font-size="6.5" text-anchor="middle" font-weight="normal" fill="#3c3c3c" stroke="#3c3c3c" stroke-width="0.12">6</text>
<line x1="149.80" y1="439.40" x2="149.80" y2="442.20" stroke="#231f20" stroke-width="1.1" stroke-linecap="butt"/>
<text x="149.80" y="451.60" font-size="6.5" text-anchor="middle" font-weight="normal" fill="#3c3c3c" stroke="#3c3c3c" stroke-width="0.12">12</text>
<line x1="184.60" y1="439.40" x2="184.60" y2="442.20" stroke="#231f20" stroke-width="1.1" stroke-linecap="butt"/>
<text x="184.60" y="451.60" font-size="6.5" text-anchor="middle" font-weight="normal" fill="#3c3c3c" stroke="#3c3c3c" stroke-width="0.12">18</text>
<line x1="218.40" y1="439.40" x2="218.40" y2="442.20" stroke="#231f20" stroke-width="1.1" stroke-linecap="butt"/>
<text x="218.40" y="451.60" font-size="6.5" text-anchor="middle" font-weight="normal" fill="#3c3c3c" stroke="#3c3c3c" stroke-width="0.12">24</text>
<text x="159.40" y="464.30" font-size="8.6" text-anchor="middle" font-weight="normal" fill="#333333" stroke="#333333" stroke-width="0.13" textLength="68.10" lengthAdjust="spacingAndGlyphs">Weeks post-transplant</text>
<text x="49.20" y="387.00" font-size="9.4" text-anchor="middle" font-weight="normal" fill="#333333" stroke="#333333" stroke-width="0.13" textLength="44.20" lengthAdjust="spacingAndGlyphs" transform="rotate(-90 49.20 387.00)">Donor-derived</text>
<text x="58.70" y="387.00" font-size="9.4" text-anchor="middle" font-weight="normal" fill="#333333" stroke="#333333" stroke-width="0.13" textLength="72.70" lengthAdjust="spacingAndGlyphs" transform="rotate(-90 58.70 387.00)">chimerism (%CD45.2<tspan font-size="5" dy="-3">+</tspan><tspan dy="3">)</tspan></text>
<polyline points="82.10,371.88 115.90,380.48 149.80,385.18 184.60,391.73 218.40,390.40" fill="none" stroke="#c8283c" stroke-width="1.1" stroke-dasharray="2.6,1.8"/>
<line x1="115.90" y1="375.88" x2="115.90" y2="385.08" stroke="#c8283c" stroke-width="0.9" stroke-linecap="butt"/>
<line x1="113.90" y1="375.88" x2="117.90" y2="375.88" stroke="#c8283c" stroke-width="0.9" stroke-linecap="butt"/>
<line x1="113.90" y1="385.08" x2="117.90" y2="385.08" stroke="#c8283c" stroke-width="0.9" stroke-linecap="butt"/>
<line x1="149.80" y1="380.58" x2="149.80" y2="389.78" stroke="#c8283c" stroke-width="0.9" stroke-linecap="butt"/>
<line x1="147.80" y1="380.58" x2="151.80" y2="380.58" stroke="#c8283c" stroke-width="0.9" stroke-linecap="butt"/>
<line x1="147.80" y1="389.78" x2="151.80" y2="389.78" stroke="#c8283c" stroke-width="0.9" stroke-linecap="butt"/>
<line x1="184.60" y1="385.53" x2="184.60" y2="397.93" stroke="#c8283c" stroke-width="0.9" stroke-linecap="butt"/>
<line x1="182.60" y1="385.53" x2="186.60" y2="385.53" stroke="#c8283c" stroke-width="0.9" stroke-linecap="butt"/>
<line x1="182.60" y1="397.93" x2="186.60" y2="397.93" stroke="#c8283c" stroke-width="0.9" stroke-linecap="butt"/>
<line x1="218.40" y1="386.00" x2="218.40" y2="394.80" stroke="#c8283c" stroke-width="0.9" stroke-linecap="butt"/>
<line x1="216.40" y1="386.00" x2="220.40" y2="386.00" stroke="#c8283c" stroke-width="0.9" stroke-linecap="butt"/>
<line x1="216.40" y1="394.80" x2="220.40" y2="394.80" stroke="#c8283c" stroke-width="0.9" stroke-linecap="butt"/>
<rect x="80.50" y="370.28" width="3.2" height="3.2" fill="white" stroke="#c8283c" stroke-width="0.9"/>
<rect x="114.30" y="378.88" width="3.2" height="3.2" fill="white" stroke="#c8283c" stroke-width="0.9"/>
<rect x="148.20" y="383.58" width="3.2" height="3.2" fill="white" stroke="#c8283c" stroke-width="0.9"/>
<rect x="183.00" y="390.13" width="3.2" height="3.2" fill="white" stroke="#c8283c" stroke-width="0.9"/>
<rect x="216.80" y="388.80" width="3.2" height="3.2" fill="white" stroke="#c8283c" stroke-width="0.9"/>
<polyline points="82.10,370.14 115.90,362.98 149.80,361.14 184.60,358.07 218.40,359.40" fill="none" stroke="#3d6699" stroke-width="1.1" stroke-dasharray="2.6,1.8"/>
<line x1="115.90" y1="358.18" x2="115.90" y2="367.78" stroke="#3d6699" stroke-width="0.9" stroke-linecap="butt"/>
<line x1="113.90" y1="358.18" x2="117.90" y2="358.18" stroke="#3d6699" stroke-width="0.9" stroke-linecap="butt"/>
<line x1="113.90" y1="367.78" x2="117.90" y2="367.78" stroke="#3d6699" stroke-width="0.9" stroke-linecap="butt"/>
<line x1="149.80" y1="356.74" x2="149.80" y2="365.54" stroke="#3d6699" stroke-width="0.9" stroke-linecap="butt"/>
<line x1="147.80" y1="356.74" x2="151.80" y2="356.74" stroke="#3d6699" stroke-width="0.9" stroke-linecap="butt"/>
<line x1="147.80" y1="365.54" x2="151.80" y2="365.54" stroke="#3d6699" stroke-width="0.9" stroke-linecap="butt"/>
<line x1="184.60" y1="352.87" x2="184.60" y2="363.27" stroke="#3d6699" stroke-width="0.9" stroke-linecap="butt"/>
<line x1="182.60" y1="352.87" x2="186.60" y2="352.87" stroke="#3d6699" stroke-width="0.9" stroke-linecap="butt"/>
<line x1="182.60" y1="363.27" x2="186.60" y2="363.27" stroke="#3d6699" stroke-width="0.9" stroke-linecap="butt"/>
<line x1="218.40" y1="354.20" x2="218.40" y2="364.60" stroke="#3d6699" stroke-width="0.9" stroke-linecap="butt"/>
<line x1="216.40" y1="354.20" x2="220.40" y2="354.20" stroke="#3d6699" stroke-width="0.9" stroke-linecap="butt"/>
<line x1="216.40" y1="364.60" x2="220.40" y2="364.60" stroke="#3d6699" stroke-width="0.9" stroke-linecap="butt"/>
<circle cx="82.10" cy="370.14" r="1.7" fill="white" stroke="#3d6699" stroke-width="0.9"/>
<circle cx="115.90" cy="362.98" r="1.7" fill="white" stroke="#3d6699" stroke-width="0.9"/>
<circle cx="149.80" cy="361.14" r="1.7" fill="white" stroke="#3d6699" stroke-width="0.9"/>
<circle cx="184.60" cy="358.07" r="1.7" fill="white" stroke="#3d6699" stroke-width="0.9"/>
<circle cx="218.40" cy="359.40" r="1.7" fill="white" stroke="#3d6699" stroke-width="0.9"/>
<polyline points="82.10,373.93 115.90,432.44 149.80,434.28 184.60,434.90 218.40,434.28" fill="none" stroke="#c8283c" stroke-width="1.1"/>
<line x1="115.90" y1="431.24" x2="115.90" y2="433.64" stroke="#c8283c" stroke-width="0.9" stroke-linecap="butt"/>
<line x1="113.90" y1="431.24" x2="117.90" y2="431.24" stroke="#c8283c" stroke-width="0.9" stroke-linecap="butt"/>
<line x1="113.90" y1="433.64" x2="117.90" y2="433.64" stroke="#c8283c" stroke-width="0.9" stroke-linecap="butt"/>
<rect x="80.50" y="372.33" width="3.2" height="3.2" fill="#c8283c"/>
<rect x="114.30" y="430.84" width="3.2" height="3.2" fill="#c8283c"/>
<rect x="148.20" y="432.68" width="3.2" height="3.2" fill="#c8283c"/>
<rect x="183.00" y="433.30" width="3.2" height="3.2" fill="#c8283c"/>
<rect x="216.80" y="432.68" width="3.2" height="3.2" fill="#c8283c"/>
<polyline points="82.10,372.90 115.90,426.31 149.80,426.31 184.60,428.15 218.40,426.82" fill="none" stroke="#3d6699" stroke-width="1.1"/>
<line x1="115.90" y1="422.71" x2="115.90" y2="429.91" stroke="#3d6699" stroke-width="0.9" stroke-linecap="butt"/>
<line x1="113.90" y1="422.71" x2="117.90" y2="422.71" stroke="#3d6699" stroke-width="0.9" stroke-linecap="butt"/>
<line x1="113.90" y1="429.91" x2="117.90" y2="429.91" stroke="#3d6699" stroke-width="0.9" stroke-linecap="butt"/>
<line x1="149.80" y1="423.31" x2="149.80" y2="429.31" stroke="#3d6699" stroke-width="0.9" stroke-linecap="butt"/>
<line x1="147.80" y1="423.31" x2="151.80" y2="423.31" stroke="#3d6699" stroke-width="0.9" stroke-linecap="butt"/>
<line x1="147.80" y1="429.31" x2="151.80" y2="429.31" stroke="#3d6699" stroke-width="0.9" stroke-linecap="butt"/>
<line x1="184.60" y1="424.75" x2="184.60" y2="431.55" stroke="#3d6699" stroke-width="0.9" stroke-linecap="butt"/>
<line x1="182.60" y1="424.75" x2="186.60" y2="424.75" stroke="#3d6699" stroke-width="0.9" stroke-linecap="butt"/>
<line x1="182.60" y1="431.55" x2="186.60" y2="431.55" stroke="#3d6699" stroke-width="0.9" stroke-linecap="butt"/>
<line x1="218.40" y1="423.42" x2="218.40" y2="430.22" stroke="#3d6699" stroke-width="0.9" stroke-linecap="butt"/>
<line x1="216.40" y1="423.42" x2="220.40" y2="423.42" stroke="#3d6699" stroke-width="0.9" stroke-linecap="butt"/>
<line x1="216.40" y1="430.22" x2="220.40" y2="430.22" stroke="#3d6699" stroke-width="0.9" stroke-linecap="butt"/>
<circle cx="82.10" cy="372.90" r="1.7" fill="#3d6699"/>
<circle cx="115.90" cy="426.31" r="1.7" fill="#3d6699"/>
<circle cx="149.80" cy="426.31" r="1.7" fill="#3d6699"/>
<circle cx="184.60" cy="428.15" r="1.7" fill="#3d6699"/>
<circle cx="218.40" cy="426.82" r="1.7" fill="#3d6699"/>
<polyline points="119.50,365.20 122.10,365.20 122.10,377.90 119.50,377.90" fill="none" stroke="#2a2a2a" stroke-width="1.0"/>
<ellipse cx="126.70" cy="371.70" rx="1.15" ry="1.0" fill="#2a2a2a"/>
<polyline points="154.30,362.10 156.90,362.10 156.90,385.50 154.30,385.50" fill="none" stroke="#2a2a2a" stroke-width="1.0"/>
<ellipse cx="161.80" cy="370.50" rx="1.0" ry="1.1" fill="#333"/>
<ellipse cx="161.80" cy="373.80" rx="1.0" ry="1.1" fill="#333"/>
<ellipse cx="161.80" cy="377.10" rx="1.0" ry="1.1" fill="#333"/>
<polyline points="188.60,360.40 191.20,360.40 191.20,388.90 188.60,388.90" fill="none" stroke="#2a2a2a" stroke-width="1.0"/>
<ellipse cx="195.90" cy="368.85" rx="1.0" ry="1.1" fill="#333"/>
<ellipse cx="195.90" cy="372.15" rx="1.0" ry="1.1" fill="#333"/>
<ellipse cx="195.90" cy="375.45" rx="1.0" ry="1.1" fill="#333"/>
<ellipse cx="195.90" cy="378.75" rx="1.0" ry="1.1" fill="#333"/>
<polyline points="222.70,360.40 225.30,360.40 225.30,388.90 222.70,388.90" fill="none" stroke="#2a2a2a" stroke-width="1.0"/>
<ellipse cx="230.00" cy="368.85" rx="1.0" ry="1.1" fill="#333"/>
<ellipse cx="230.00" cy="372.15" rx="1.0" ry="1.1" fill="#333"/>
<ellipse cx="230.00" cy="375.45" rx="1.0" ry="1.1" fill="#333"/>
<ellipse cx="230.00" cy="378.75" rx="1.0" ry="1.1" fill="#333"/>
<line x1="292.90" y1="333.80" x2="292.90" y2="440.55" stroke="#231f20" stroke-width="1.1" stroke-linecap="butt"/>
<line x1="289.90" y1="336.90" x2="292.90" y2="336.90" stroke="#231f20" stroke-width="1.1" stroke-linecap="butt"/>
<text x="286.80" y="339.31" font-size="6.7" text-anchor="end" font-weight="normal" fill="#3c3c3c" stroke="#3c3c3c" stroke-width="0.12" textLength="10.50" lengthAdjust="spacingAndGlyphs">100</text>
<line x1="289.90" y1="357.52" x2="292.90" y2="357.52" stroke="#231f20" stroke-width="1.1" stroke-linecap="butt"/>
<text x="286.80" y="359.93" font-size="6.7" text-anchor="end" font-weight="normal" fill="#3c3c3c" stroke="#3c3c3c" stroke-width="0.12" textLength="7.00" lengthAdjust="spacingAndGlyphs">80</text>
<line x1="289.90" y1="378.14" x2="292.90" y2="378.14" stroke="#231f20" stroke-width="1.1" stroke-linecap="butt"/>
<text x="286.80" y="380.55" font-size="6.7" text-anchor="end" font-weight="normal" fill="#3c3c3c" stroke="#3c3c3c" stroke-width="0.12" textLength="7.00" lengthAdjust="spacingAndGlyphs">60</text>
<line x1="289.90" y1="398.76" x2="292.90" y2="398.76" stroke="#231f20" stroke-width="1.1" stroke-linecap="butt"/>
<text x="286.80" y="401.17" font-size="6.7" text-anchor="end" font-weight="normal" fill="#3c3c3c" stroke="#3c3c3c" stroke-width="0.12" textLength="7.00" lengthAdjust="spacingAndGlyphs">40</text>
<line x1="289.90" y1="419.38" x2="292.90" y2="419.38" stroke="#231f20" stroke-width="1.1" stroke-linecap="butt"/>
<text x="286.80" y="421.79" font-size="6.7" text-anchor="end" font-weight="normal" fill="#3c3c3c" stroke="#3c3c3c" stroke-width="0.12" textLength="7.00" lengthAdjust="spacingAndGlyphs">20</text>
<line x1="289.90" y1="440.00" x2="292.90" y2="440.00" stroke="#231f20" stroke-width="1.1" stroke-linecap="butt"/>
<text x="286.80" y="442.41" font-size="6.7" text-anchor="end" font-weight="normal" fill="#3c3c3c" stroke="#3c3c3c" stroke-width="0.12" textLength="3.50" lengthAdjust="spacingAndGlyphs">0</text>
<line x1="292.35" y1="439.60" x2="446.30" y2="439.60" stroke="#231f20" stroke-width="1.1" stroke-linecap="butt"/>
<line x1="317.60" y1="439.60" x2="317.60" y2="442.40" stroke="#231f20" stroke-width="1.1" stroke-linecap="butt"/>
<line x1="369.90" y1="439.60" x2="369.90" y2="442.40" stroke="#231f20" stroke-width="1.1" stroke-linecap="butt"/>
<line x1="422.20" y1="439.60" x2="422.20" y2="442.40" stroke="#231f20" stroke-width="1.1" stroke-linecap="butt"/>
<text x="317.70" y="451.20" font-size="7.0" text-anchor="middle" font-weight="normal" fill="#333333" stroke="#333333" stroke-width="0.13" textLength="24.30" lengthAdjust="spacingAndGlyphs">Myeloid</text>
<text x="370.00" y="451.20" font-size="7.0" text-anchor="middle" font-weight="normal" fill="#333333" stroke="#333333" stroke-width="0.13" textLength="20.80" lengthAdjust="spacingAndGlyphs">B Cells</text>
<text x="422.70" y="451.20" font-size="7.0" text-anchor="middle" font-weight="normal" fill="#333333" stroke="#333333" stroke-width="0.13" textLength="19.80" lengthAdjust="spacingAndGlyphs">T Cells</text>
<text x="260.60" y="386.00" font-size="8.5" text-anchor="middle" font-weight="normal" fill="#333333" stroke="#333333" stroke-width="0.13" textLength="72.70" lengthAdjust="spacingAndGlyphs" transform="rotate(-90 260.60 386.00)">24 week donor-derived</text>
<text x="270.20" y="386.00" font-size="8.5" text-anchor="middle" font-weight="normal" fill="#333333" stroke="#333333" stroke-width="0.13" textLength="73.70" lengthAdjust="spacingAndGlyphs" transform="rotate(-90 270.20 386.00)">chimerism (%CD45.2<tspan font-size="5" dy="-3">+</tspan><tspan dy="3">)</tspan></text>
<rect x="297.80" y="423.40" width="6.60" height="16.20" fill="#7689c0" stroke="#3f5d8e" stroke-width="1.0"/>
<rect x="309.00" y="429.90" width="6.60" height="9.70" fill="#ee6e6e" stroke="#c02a3a" stroke-width="1.0"/>
<rect x="320.20" y="356.00" width="6.60" height="83.60" fill="#c3c4e4" stroke="#3f5d8e" stroke-width="1.0"/>
<rect x="331.40" y="380.00" width="6.60" height="59.60" fill="#f4c0bc" stroke="#c02a3a" stroke-width="1.0"/>
<circle cx="300.84" cy="395.30" r="1.7" fill="#2b5088"/>
<circle cx="299.86" cy="399.83" r="1.7" fill="#2b5088"/>
<circle cx="301.83" cy="399.83" r="1.7" fill="#2b5088"/>
<circle cx="300.84" cy="418.17" r="1.7" fill="#2b5088"/>
<circle cx="299.46" cy="419.55" r="1.7" fill="#2b5088"/>
<circle cx="300.84" cy="425.46" r="1.7" fill="#2b5088"/>
<circle cx="298.87" cy="430.39" r="1.7" fill="#2b5088"/>
<circle cx="301.83" cy="432.36" r="1.7" fill="#2b5088"/>
<circle cx="299.86" cy="436.30" r="1.7" fill="#2b5088"/>
<circle cx="301.83" cy="438.27" r="1.7" fill="#2b5088"/>
<rect x="310.48" y="386.41" width="3.2" height="3.2" fill="#cc2a3c"/>
<rect x="310.48" y="393.31" width="3.2" height="3.2" fill="#cc2a3c"/>
<rect x="309.10" y="428.79" width="3.2" height="3.2" fill="#cc2a3c"/>
<rect x="311.66" y="430.76" width="3.2" height="3.2" fill="#cc2a3c"/>
<rect x="310.08" y="433.72" width="3.2" height="3.2" fill="#cc2a3c"/>
<rect x="308.11" y="436.67" width="3.2" height="3.2" fill="#cc2a3c"/>
<rect x="312.05" y="436.67" width="3.2" height="3.2" fill="#cc2a3c"/>
<circle cx="321.15" cy="340.30" r="1.35" fill="white" stroke="#2b5088" stroke-width="0.75"/>
<circle cx="325.09" cy="337.35" r="1.35" fill="white" stroke="#2b5088" stroke-width="0.75"/>
<circle cx="325.88" cy="340.70" r="1.35" fill="white" stroke="#2b5088" stroke-width="0.75"/>
<circle cx="323.51" cy="343.26" r="1.35" fill="white" stroke="#2b5088" stroke-width="0.75"/>
<circle cx="322.53" cy="347.20" r="1.35" fill="white" stroke="#2b5088" stroke-width="0.75"/>
<circle cx="323.51" cy="349.57" r="1.35" fill="white" stroke="#2b5088" stroke-width="0.75"/>
<circle cx="321.54" cy="371.25" r="1.35" fill="white" stroke="#2b5088" stroke-width="0.75"/>
<circle cx="326.07" cy="371.25" r="1.35" fill="white" stroke="#2b5088" stroke-width="0.75"/>
<circle cx="323.90" cy="372.83" r="1.35" fill="white" stroke="#2b5088" stroke-width="0.75"/>
<circle cx="322.53" cy="382.09" r="1.35" fill="white" stroke="#2b5088" stroke-width="0.75"/>
<rect x="331.03" y="357.09" width="2.7" height="2.7" fill="white" stroke="#cc2a3c" stroke-width="0.75"/>
<rect x="333.59" y="356.10" width="2.7" height="2.7" fill="white" stroke="#cc2a3c" stroke-width="0.75"/>
<rect x="335.57" y="358.07" width="2.7" height="2.7" fill="white" stroke="#cc2a3c" stroke-width="0.75"/>
<rect x="333.00" y="359.06" width="2.7" height="2.7" fill="white" stroke="#cc2a3c" stroke-width="0.75"/>
<rect x="333.00" y="365.57" width="2.7" height="2.7" fill="white" stroke="#cc2a3c" stroke-width="0.75"/>
<rect x="335.96" y="381.73" width="2.7" height="2.7" fill="white" stroke="#cc2a3c" stroke-width="0.75"/>
<rect x="333.59" y="388.63" width="2.7" height="2.7" fill="white" stroke="#cc2a3c" stroke-width="0.75"/>
<rect x="333.00" y="399.47" width="2.7" height="2.7" fill="white" stroke="#cc2a3c" stroke-width="0.75"/>
<rect x="333.00" y="430.62" width="2.7" height="2.7" fill="white" stroke="#cc2a3c" stroke-width="0.75"/>
<line x1="301.10" y1="419.40" x2="301.10" y2="426.40" stroke="#3d6699" stroke-width="0.9" stroke-linecap="butt"/>
<line x1="299.30" y1="419.40" x2="302.90" y2="419.40" stroke="#3d6699" stroke-width="0.9" stroke-linecap="butt"/>
<line x1="299.30" y1="426.40" x2="302.90" y2="426.40" stroke="#3d6699" stroke-width="0.9" stroke-linecap="butt"/>
<line x1="312.30" y1="425.40" x2="312.30" y2="433.40" stroke="#c8283c" stroke-width="0.9" stroke-linecap="butt"/>
<line x1="310.50" y1="425.40" x2="314.10" y2="425.40" stroke="#c8283c" stroke-width="0.9" stroke-linecap="butt"/>
<line x1="310.50" y1="433.40" x2="314.10" y2="433.40" stroke="#c8283c" stroke-width="0.9" stroke-linecap="butt"/>
<line x1="323.50" y1="350.50" x2="323.50" y2="360.50" stroke="#3d6699" stroke-width="0.9" stroke-linecap="butt"/>
<line x1="321.70" y1="350.50" x2="325.30" y2="350.50" stroke="#3d6699" stroke-width="0.9" stroke-linecap="butt"/>
<line x1="321.70" y1="360.50" x2="325.30" y2="360.50" stroke="#3d6699" stroke-width="0.9" stroke-linecap="butt"/>
<line x1="334.70" y1="372.90" x2="334.70" y2="386.10" stroke="#c8283c" stroke-width="0.9" stroke-linecap="butt"/>
<line x1="332.90" y1="372.90" x2="336.50" y2="372.90" stroke="#c8283c" stroke-width="0.9" stroke-linecap="butt"/>
<line x1="332.90" y1="386.10" x2="336.50" y2="386.10" stroke="#c8283c" stroke-width="0.9" stroke-linecap="butt"/>
<rect x="349.80" y="426.90" width="6.60" height="12.70" fill="#7689c0" stroke="#3f5d8e" stroke-width="1.0"/>
<rect x="361.10" y="433.50" width="6.60" height="6.10" fill="#ee6e6e" stroke="#c02a3a" stroke-width="1.0"/>
<rect x="372.40" y="358.00" width="6.60" height="81.60" fill="#c3c4e4" stroke="#3f5d8e" stroke-width="1.0"/>
<rect x="383.70" y="387.90" width="6.60" height="51.70" fill="#f4c0bc" stroke="#c02a3a" stroke-width="1.0"/>
<circle cx="352.88" cy="392.94" r="1.7" fill="#2b5088"/>
<circle cx="352.88" cy="398.45" r="1.7" fill="#2b5088"/>
<circle cx="352.88" cy="416.59" r="1.7" fill="#2b5088"/>
<circle cx="352.88" cy="422.50" r="1.7" fill="#2b5088"/>
<circle cx="351.90" cy="429.40" r="1.7" fill="#2b5088"/>
<circle cx="353.87" cy="430.39" r="1.7" fill="#2b5088"/>
<circle cx="352.88" cy="433.35" r="1.7" fill="#2b5088"/>
<circle cx="351.90" cy="436.30" r="1.7" fill="#2b5088"/>
<circle cx="353.87" cy="437.29" r="1.7" fill="#2b5088"/>
<rect x="363.11" y="424.85" width="3.2" height="3.2" fill="#cc2a3c"/>
<rect x="363.11" y="427.80" width="3.2" height="3.2" fill="#cc2a3c"/>
<rect x="362.13" y="430.76" width="3.2" height="3.2" fill="#cc2a3c"/>
<rect x="364.10" y="431.75" width="3.2" height="3.2" fill="#cc2a3c"/>
<rect x="361.14" y="434.70" width="3.2" height="3.2" fill="#cc2a3c"/>
<rect x="365.08" y="434.70" width="3.2" height="3.2" fill="#cc2a3c"/>
<rect x="363.11" y="436.67" width="3.2" height="3.2" fill="#cc2a3c"/>
<circle cx="373.58" cy="338.73" r="1.35" fill="white" stroke="#2b5088" stroke-width="0.75"/>
<circle cx="376.54" cy="338.73" r="1.35" fill="white" stroke="#2b5088" stroke-width="0.75"/>
<circle cx="379.50" cy="339.71" r="1.35" fill="white" stroke="#2b5088" stroke-width="0.75"/>
<circle cx="374.57" cy="341.68" r="1.35" fill="white" stroke="#2b5088" stroke-width="0.75"/>
<circle cx="378.12" cy="342.08" r="1.35" fill="white" stroke="#2b5088" stroke-width="0.75"/>
<circle cx="374.17" cy="344.64" r="1.35" fill="white" stroke="#2b5088" stroke-width="0.75"/>
<circle cx="378.51" cy="344.64" r="1.35" fill="white" stroke="#2b5088" stroke-width="0.75"/>
<circle cx="375.55" cy="347.60" r="1.35" fill="white" stroke="#2b5088" stroke-width="0.75"/>
<circle cx="375.55" cy="351.54" r="1.35" fill="white" stroke="#2b5088" stroke-width="0.75"/>
<circle cx="375.55" cy="377.17" r="1.35" fill="white" stroke="#2b5088" stroke-width="0.75"/>
<circle cx="375.55" cy="419.55" r="1.35" fill="white" stroke="#2b5088" stroke-width="0.75"/>
<rect x="385.44" y="355.12" width="2.7" height="2.7" fill="white" stroke="#cc2a3c" stroke-width="0.75"/>
<rect x="384.06" y="372.86" width="2.7" height="2.7" fill="white" stroke="#cc2a3c" stroke-width="0.75"/>
<rect x="386.62" y="373.84" width="2.7" height="2.7" fill="white" stroke="#cc2a3c" stroke-width="0.75"/>
<rect x="385.05" y="375.82" width="2.7" height="2.7" fill="white" stroke="#cc2a3c" stroke-width="0.75"/>
<rect x="383.07" y="376.80" width="2.7" height="2.7" fill="white" stroke="#cc2a3c" stroke-width="0.75"/>
<rect x="386.03" y="377.79" width="2.7" height="2.7" fill="white" stroke="#cc2a3c" stroke-width="0.75"/>
<rect x="385.05" y="381.73" width="2.7" height="2.7" fill="white" stroke="#cc2a3c" stroke-width="0.75"/>
<rect x="385.44" y="390.60" width="2.7" height="2.7" fill="white" stroke="#cc2a3c" stroke-width="0.75"/>
<rect x="385.44" y="397.10" width="2.7" height="2.7" fill="white" stroke="#cc2a3c" stroke-width="0.75"/>
<rect x="385.44" y="418.20" width="2.7" height="2.7" fill="white" stroke="#cc2a3c" stroke-width="0.75"/>
<rect x="385.44" y="425.10" width="2.7" height="2.7" fill="white" stroke="#cc2a3c" stroke-width="0.75"/>
<line x1="353.10" y1="422.90" x2="353.10" y2="429.90" stroke="#3d6699" stroke-width="0.9" stroke-linecap="butt"/>
<line x1="351.30" y1="422.90" x2="354.90" y2="422.90" stroke="#3d6699" stroke-width="0.9" stroke-linecap="butt"/>
<line x1="351.30" y1="429.90" x2="354.90" y2="429.90" stroke="#3d6699" stroke-width="0.9" stroke-linecap="butt"/>
<line x1="364.40" y1="431.50" x2="364.40" y2="434.50" stroke="#c8283c" stroke-width="0.9" stroke-linecap="butt"/>
<line x1="362.60" y1="431.50" x2="366.20" y2="431.50" stroke="#c8283c" stroke-width="0.9" stroke-linecap="butt"/>
<line x1="362.60" y1="434.50" x2="366.20" y2="434.50" stroke="#c8283c" stroke-width="0.9" stroke-linecap="butt"/>
<line x1="375.70" y1="349.50" x2="375.70" y2="365.50" stroke="#3d6699" stroke-width="0.9" stroke-linecap="butt"/>
<line x1="373.90" y1="349.50" x2="377.50" y2="349.50" stroke="#3d6699" stroke-width="0.9" stroke-linecap="butt"/>
<line x1="373.90" y1="365.50" x2="377.50" y2="365.50" stroke="#3d6699" stroke-width="0.9" stroke-linecap="butt"/>
<line x1="387.00" y1="383.90" x2="387.00" y2="390.90" stroke="#c8283c" stroke-width="0.9" stroke-linecap="butt"/>
<line x1="385.20" y1="383.90" x2="388.80" y2="383.90" stroke="#c8283c" stroke-width="0.9" stroke-linecap="butt"/>
<line x1="385.20" y1="390.90" x2="388.80" y2="390.90" stroke="#c8283c" stroke-width="0.9" stroke-linecap="butt"/>
<rect x="402.40" y="428.90" width="6.40" height="10.70" fill="#7689c0" stroke="#3f5d8e" stroke-width="1.0"/>
<rect x="413.80" y="434.40" width="6.40" height="5.20" fill="#ee6e6e" stroke="#c02a3a" stroke-width="1.0"/>
<rect x="425.20" y="366.80" width="6.40" height="72.80" fill="#c3c4e4" stroke="#3f5d8e" stroke-width="1.0"/>
<rect x="436.60" y="405.70" width="6.40" height="33.90" fill="#f4c0bc" stroke="#c02a3a" stroke-width="1.0"/>
<circle cx="405.88" cy="382.68" r="1.7" fill="#2b5088"/>
<circle cx="405.88" cy="410.68" r="1.7" fill="#2b5088"/>
<circle cx="404.90" cy="429.40" r="1.7" fill="#2b5088"/>
<circle cx="406.87" cy="431.37" r="1.7" fill="#2b5088"/>
<circle cx="405.88" cy="434.33" r="1.7" fill="#2b5088"/>
<circle cx="404.90" cy="437.29" r="1.7" fill="#2b5088"/>
<circle cx="406.87" cy="438.27" r="1.7" fill="#2b5088"/>
<rect x="415.13" y="429.77" width="3.2" height="3.2" fill="#cc2a3c"/>
<rect x="413.16" y="432.73" width="3.2" height="3.2" fill="#cc2a3c"/>
<rect x="416.11" y="433.72" width="3.2" height="3.2" fill="#cc2a3c"/>
<rect x="414.14" y="435.69" width="3.2" height="3.2" fill="#cc2a3c"/>
<rect x="417.10" y="436.67" width="3.2" height="3.2" fill="#cc2a3c"/>
<circle cx="425.60" cy="339.71" r="1.35" fill="white" stroke="#2b5088" stroke-width="0.75"/>
<circle cx="428.55" cy="337.74" r="1.35" fill="white" stroke="#2b5088" stroke-width="0.75"/>
<circle cx="429.93" cy="339.71" r="1.35" fill="white" stroke="#2b5088" stroke-width="0.75"/>
<circle cx="429.54" cy="343.26" r="1.35" fill="white" stroke="#2b5088" stroke-width="0.75"/>
<circle cx="427.57" cy="356.47" r="1.35" fill="white" stroke="#2b5088" stroke-width="0.75"/>
<circle cx="427.57" cy="361.40" r="1.35" fill="white" stroke="#2b5088" stroke-width="0.75"/>
<circle cx="427.57" cy="373.22" r="1.35" fill="white" stroke="#2b5088" stroke-width="0.75"/>
<circle cx="427.57" cy="387.42" r="1.35" fill="white" stroke="#2b5088" stroke-width="0.75"/>
<circle cx="427.57" cy="423.49" r="1.35" fill="white" stroke="#2b5088" stroke-width="0.75"/>
<rect x="437.65" y="379.76" width="2.7" height="2.7" fill="white" stroke="#cc2a3c" stroke-width="0.75"/>
<rect x="436.07" y="387.64" width="2.7" height="2.7" fill="white" stroke="#cc2a3c" stroke-width="0.75"/>
<rect x="439.62" y="387.25" width="2.7" height="2.7" fill="white" stroke="#cc2a3c" stroke-width="0.75"/>
<rect x="437.65" y="396.51" width="2.7" height="2.7" fill="white" stroke="#cc2a3c" stroke-width="0.75"/>
<rect x="436.07" y="407.35" width="2.7" height="2.7" fill="white" stroke="#cc2a3c" stroke-width="0.75"/>
<rect x="439.03" y="409.33" width="2.7" height="2.7" fill="white" stroke="#cc2a3c" stroke-width="0.75"/>
<rect x="440.41" y="415.24" width="2.7" height="2.7" fill="white" stroke="#cc2a3c" stroke-width="0.75"/>
<rect x="437.65" y="432.98" width="2.7" height="2.7" fill="white" stroke="#cc2a3c" stroke-width="0.75"/>
<rect x="439.03" y="436.92" width="2.7" height="2.7" fill="white" stroke="#cc2a3c" stroke-width="0.75"/>
<line x1="405.60" y1="423.90" x2="405.60" y2="432.90" stroke="#3d6699" stroke-width="0.9" stroke-linecap="butt"/>
<line x1="403.80" y1="423.90" x2="407.40" y2="423.90" stroke="#3d6699" stroke-width="0.9" stroke-linecap="butt"/>
<line x1="403.80" y1="432.90" x2="407.40" y2="432.90" stroke="#3d6699" stroke-width="0.9" stroke-linecap="butt"/>
<line x1="417.00" y1="432.40" x2="417.00" y2="435.40" stroke="#c8283c" stroke-width="0.9" stroke-linecap="butt"/>
<line x1="415.20" y1="432.40" x2="418.80" y2="432.40" stroke="#c8283c" stroke-width="0.9" stroke-linecap="butt"/>
<line x1="415.20" y1="435.40" x2="418.80" y2="435.40" stroke="#c8283c" stroke-width="0.9" stroke-linecap="butt"/>
<line x1="428.40" y1="360.30" x2="428.40" y2="372.30" stroke="#3d6699" stroke-width="0.9" stroke-linecap="butt"/>
<line x1="426.60" y1="360.30" x2="430.20" y2="360.30" stroke="#3d6699" stroke-width="0.9" stroke-linecap="butt"/>
<line x1="426.60" y1="372.30" x2="430.20" y2="372.30" stroke="#3d6699" stroke-width="0.9" stroke-linecap="butt"/>
<line x1="439.80" y1="397.90" x2="439.80" y2="412.50" stroke="#c8283c" stroke-width="0.9" stroke-linecap="butt"/>
<line x1="438.00" y1="397.90" x2="441.60" y2="397.90" stroke="#c8283c" stroke-width="0.9" stroke-linecap="butt"/>
<line x1="438.00" y1="412.50" x2="441.60" y2="412.50" stroke="#c8283c" stroke-width="0.9" stroke-linecap="butt"/>
<polyline points="323.90,333.50 323.90,330.80 334.40,330.80 334.40,351.50" fill="none" stroke="#2a2a2a" stroke-width="1.0"/>
<ellipse cx="329.15" cy="326.30" rx="1.15" ry="1.0" fill="#2a2a2a"/>
<polyline points="375.60,333.50 375.60,330.80 386.80,330.80 386.80,350.60" fill="none" stroke="#2a2a2a" stroke-width="1.0"/>
<ellipse cx="377.40" cy="326.30" rx="1.15" ry="1.0" fill="#2a2a2a"/>
<ellipse cx="381.20" cy="326.30" rx="1.15" ry="1.0" fill="#2a2a2a"/>
<ellipse cx="385.00" cy="326.30" rx="1.15" ry="1.0" fill="#2a2a2a"/>
<polyline points="427.60,334.00 427.60,331.80 439.80,331.80 439.80,372.20" fill="none" stroke="#2a2a2a" stroke-width="1.0"/>
<ellipse cx="429.90" cy="327.30" rx="1.15" ry="1.0" fill="#2a2a2a"/>
<ellipse cx="433.70" cy="327.30" rx="1.15" ry="1.0" fill="#2a2a2a"/>
<ellipse cx="437.50" cy="327.30" rx="1.15" ry="1.0" fill="#2a2a2a"/>
<text x="6.80" y="489.90" font-size="12" text-anchor="start" font-weight="bold" fill="#111" stroke="#111" stroke-width="0.13">E</text>
<line x1="48.40" y1="497.40" x2="48.40" y2="601.75" stroke="#231f20" stroke-width="1.1" stroke-linecap="butt"/>
<line x1="45.40" y1="499.00" x2="48.40" y2="499.00" stroke="#231f20" stroke-width="1.1" stroke-linecap="butt"/>
<text x="41.20" y="501.34" font-size="6.5" text-anchor="end" font-weight="normal" fill="#3c3c3c" stroke="#3c3c3c" stroke-width="0.12" textLength="9.90" lengthAdjust="spacingAndGlyphs">100</text>
<line x1="45.40" y1="519.44" x2="48.40" y2="519.44" stroke="#231f20" stroke-width="1.1" stroke-linecap="butt"/>
<text x="41.20" y="521.78" font-size="6.5" text-anchor="end" font-weight="normal" fill="#3c3c3c" stroke="#3c3c3c" stroke-width="0.12" textLength="6.60" lengthAdjust="spacingAndGlyphs">80</text>
<line x1="45.40" y1="539.88" x2="48.40" y2="539.88" stroke="#231f20" stroke-width="1.1" stroke-linecap="butt"/>
<text x="41.20" y="542.22" font-size="6.5" text-anchor="end" font-weight="normal" fill="#3c3c3c" stroke="#3c3c3c" stroke-width="0.12" textLength="6.60" lengthAdjust="spacingAndGlyphs">60</text>
<line x1="45.40" y1="560.32" x2="48.40" y2="560.32" stroke="#231f20" stroke-width="1.1" stroke-linecap="butt"/>
<text x="41.20" y="562.66" font-size="6.5" text-anchor="end" font-weight="normal" fill="#3c3c3c" stroke="#3c3c3c" stroke-width="0.12" textLength="6.60" lengthAdjust="spacingAndGlyphs">40</text>
<line x1="45.40" y1="580.76" x2="48.40" y2="580.76" stroke="#231f20" stroke-width="1.1" stroke-linecap="butt"/>
<text x="41.20" y="583.10" font-size="6.5" text-anchor="end" font-weight="normal" fill="#3c3c3c" stroke="#3c3c3c" stroke-width="0.12" textLength="6.60" lengthAdjust="spacingAndGlyphs">20</text>
<line x1="45.40" y1="601.20" x2="48.40" y2="601.20" stroke="#231f20" stroke-width="1.1" stroke-linecap="butt"/>
<text x="41.20" y="603.54" font-size="6.5" text-anchor="end" font-weight="normal" fill="#3c3c3c" stroke="#3c3c3c" stroke-width="0.12" textLength="3.30" lengthAdjust="spacingAndGlyphs">0</text>
<line x1="47.85" y1="601.20" x2="201.30" y2="601.20" stroke="#231f20" stroke-width="1.1" stroke-linecap="butt"/>
<line x1="48.40" y1="601.20" x2="48.40" y2="604.00" stroke="#231f20" stroke-width="1.1" stroke-linecap="butt"/>
<text x="48.40" y="613.60" font-size="6.5" text-anchor="middle" font-weight="normal" fill="#3c3c3c" stroke="#3c3c3c" stroke-width="0.12">0</text>
<line x1="82.50" y1="601.20" x2="82.50" y2="604.00" stroke="#231f20" stroke-width="1.1" stroke-linecap="butt"/>
<text x="82.50" y="613.60" font-size="6.5" text-anchor="middle" font-weight="normal" fill="#3c3c3c" stroke="#3c3c3c" stroke-width="0.12">6</text>
<line x1="117.30" y1="601.20" x2="117.30" y2="604.00" stroke="#231f20" stroke-width="1.1" stroke-linecap="butt"/>
<text x="117.30" y="613.60" font-size="6.5" text-anchor="middle" font-weight="normal" fill="#3c3c3c" stroke="#3c3c3c" stroke-width="0.12">12</text>
<line x1="151.20" y1="601.20" x2="151.20" y2="604.00" stroke="#231f20" stroke-width="1.1" stroke-linecap="butt"/>
<text x="151.20" y="613.60" font-size="6.5" text-anchor="middle" font-weight="normal" fill="#3c3c3c" stroke="#3c3c3c" stroke-width="0.12">18</text>
<line x1="185.60" y1="601.20" x2="185.60" y2="604.00" stroke="#231f20" stroke-width="1.1" stroke-linecap="butt"/>
<text x="185.60" y="613.60" font-size="6.5" text-anchor="middle" font-weight="normal" fill="#3c3c3c" stroke="#3c3c3c" stroke-width="0.12">24</text>
<text x="124.40" y="626.00" font-size="8.6" text-anchor="middle" font-weight="normal" fill="#333333" stroke="#333333" stroke-width="0.13" textLength="68.10" lengthAdjust="spacingAndGlyphs">Weeks post-transplant</text>
<text x="15.20" y="549.00" font-size="9.4" text-anchor="middle" font-weight="normal" fill="#333333" stroke="#333333" stroke-width="0.13" textLength="44.20" lengthAdjust="spacingAndGlyphs" transform="rotate(-90 15.20 549.00)">Donor-derived</text>
<text x="24.70" y="549.00" font-size="9.4" text-anchor="middle" font-weight="normal" fill="#333333" stroke="#333333" stroke-width="0.13" textLength="72.70" lengthAdjust="spacingAndGlyphs" transform="rotate(-90 24.70 549.00)">chimerism (%CD45.2<tspan font-size="5" dy="-3">+</tspan><tspan dy="3">)</tspan></text>
<polyline points="82.50,532.80 119.00,534.20 154.50,534.20 189.60,535.70" fill="none" stroke="#c8283c" stroke-width="1.1" stroke-dasharray="1.8,1.8"/>
<line x1="82.50" y1="526.80" x2="82.50" y2="538.80" stroke="#c8283c" stroke-width="0.9" stroke-linecap="butt"/>
<line x1="80.50" y1="526.80" x2="84.50" y2="526.80" stroke="#c8283c" stroke-width="0.9" stroke-linecap="butt"/>
<line x1="80.50" y1="538.80" x2="84.50" y2="538.80" stroke="#c8283c" stroke-width="0.9" stroke-linecap="butt"/>
<line x1="119.00" y1="524.60" x2="119.00" y2="543.80" stroke="#c8283c" stroke-width="0.9" stroke-linecap="butt"/>
<line x1="117.00" y1="524.60" x2="121.00" y2="524.60" stroke="#c8283c" stroke-width="0.9" stroke-linecap="butt"/>
<line x1="117.00" y1="543.80" x2="121.00" y2="543.80" stroke="#c8283c" stroke-width="0.9" stroke-linecap="butt"/>
<line x1="154.50" y1="524.20" x2="154.50" y2="544.20" stroke="#c8283c" stroke-width="0.9" stroke-linecap="butt"/>
<line x1="152.50" y1="524.20" x2="156.50" y2="524.20" stroke="#c8283c" stroke-width="0.9" stroke-linecap="butt"/>
<line x1="152.50" y1="544.20" x2="156.50" y2="544.20" stroke="#c8283c" stroke-width="0.9" stroke-linecap="butt"/>
<line x1="189.60" y1="524.70" x2="189.60" y2="546.70" stroke="#c8283c" stroke-width="0.9" stroke-linecap="butt"/>
<line x1="187.60" y1="524.70" x2="191.60" y2="524.70" stroke="#c8283c" stroke-width="0.9" stroke-linecap="butt"/>
<line x1="187.60" y1="546.70" x2="191.60" y2="546.70" stroke="#c8283c" stroke-width="0.9" stroke-linecap="butt"/>
<circle cx="82.50" cy="532.80" r="1.7" fill="white" stroke="#c8283c" stroke-width="0.9"/>
<circle cx="119.00" cy="534.20" r="1.7" fill="white" stroke="#c8283c" stroke-width="0.9"/>
<circle cx="154.50" cy="534.20" r="1.7" fill="white" stroke="#c8283c" stroke-width="0.9"/>
<circle cx="189.60" cy="535.70" r="1.7" fill="white" stroke="#c8283c" stroke-width="0.9"/>
<polyline points="82.50,525.00 119.00,514.60 154.50,511.70 189.60,511.70" fill="none" stroke="#3d6699" stroke-width="1.1" stroke-dasharray="1.8,1.8"/>
<line x1="82.50" y1="521.00" x2="82.50" y2="529.00" stroke="#3d6699" stroke-width="0.9" stroke-linecap="butt"/>
<line x1="80.50" y1="521.00" x2="84.50" y2="521.00" stroke="#3d6699" stroke-width="0.9" stroke-linecap="butt"/>
<line x1="80.50" y1="529.00" x2="84.50" y2="529.00" stroke="#3d6699" stroke-width="0.9" stroke-linecap="butt"/>
<line x1="119.00" y1="512.40" x2="119.00" y2="516.80" stroke="#3d6699" stroke-width="0.9" stroke-linecap="butt"/>
<line x1="117.00" y1="512.40" x2="121.00" y2="512.40" stroke="#3d6699" stroke-width="0.9" stroke-linecap="butt"/>
<line x1="117.00" y1="516.80" x2="121.00" y2="516.80" stroke="#3d6699" stroke-width="0.9" stroke-linecap="butt"/>
<line x1="154.50" y1="509.70" x2="154.50" y2="513.70" stroke="#3d6699" stroke-width="0.9" stroke-linecap="butt"/>
<line x1="152.50" y1="509.70" x2="156.50" y2="509.70" stroke="#3d6699" stroke-width="0.9" stroke-linecap="butt"/>
<line x1="152.50" y1="513.70" x2="156.50" y2="513.70" stroke="#3d6699" stroke-width="0.9" stroke-linecap="butt"/>
<line x1="189.60" y1="509.50" x2="189.60" y2="513.90" stroke="#3d6699" stroke-width="0.9" stroke-linecap="butt"/>
<line x1="187.60" y1="509.50" x2="191.60" y2="509.50" stroke="#3d6699" stroke-width="0.9" stroke-linecap="butt"/>
<line x1="187.60" y1="513.90" x2="191.60" y2="513.90" stroke="#3d6699" stroke-width="0.9" stroke-linecap="butt"/>
<circle cx="82.50" cy="525.00" r="1.7" fill="white" stroke="#3d6699" stroke-width="0.9"/>
<circle cx="119.00" cy="514.60" r="1.7" fill="white" stroke="#3d6699" stroke-width="0.9"/>
<circle cx="154.50" cy="511.70" r="1.7" fill="white" stroke="#3d6699" stroke-width="0.9"/>
<circle cx="189.60" cy="511.70" r="1.7" fill="white" stroke="#3d6699" stroke-width="0.9"/>
<polyline points="124.30,514.00 126.90,514.00 126.90,534.20 124.30,534.20" fill="none" stroke="#2a2a2a" stroke-width="1.0"/>
<ellipse cx="132.10" cy="524.70" rx="1.15" ry="1.0" fill="#2a2a2a"/>
<polyline points="158.90,511.70 161.50,511.70 161.50,534.20 158.90,534.20" fill="none" stroke="#2a2a2a" stroke-width="1.0"/>
<ellipse cx="166.40" cy="523.50" rx="1.15" ry="1.0" fill="#2a2a2a"/>
<polyline points="194.40,511.70 197.00,511.70 197.00,535.70 194.40,535.70" fill="none" stroke="#2a2a2a" stroke-width="1.0"/>
<ellipse cx="201.60" cy="524.00" rx="1.15" ry="1.0" fill="#2a2a2a"/>
<line x1="59.60" y1="585.80" x2="70.20" y2="585.80" stroke="#3d6699" stroke-width="1.0" stroke-dasharray="1.2,1.8" stroke-linecap="butt"/>
<circle cx="64.90" cy="585.80" r="1.5" fill="white" stroke="#3d6699" stroke-width="0.9"/>
<text x="74.00" y="588.00" font-size="6.2" text-anchor="start" font-weight="normal" fill="#333333" stroke="#333333" stroke-width="0.13" textLength="81.80" lengthAdjust="spacingAndGlyphs">WT G-CSF Spleen - 100 HSCs</text>
<line x1="59.60" y1="594.70" x2="70.20" y2="594.70" stroke="#c8283c" stroke-width="1.0" stroke-dasharray="1.2,1.8" stroke-linecap="butt"/>
<circle cx="64.90" cy="594.70" r="1.5" fill="white" stroke="#c8283c" stroke-width="0.9"/>
<text x="74.60" y="596.90" font-size="6.2" text-anchor="start" font-weight="normal" fill="#333333" stroke="#333333" stroke-width="0.13" textLength="14.80" lengthAdjust="spacingAndGlyphs" font-style="italic">Cd53</text>
<text x="89.60" y="594.00" font-size="3.6" text-anchor="start" font-weight="normal" fill="#333333" stroke="#333333" stroke-width="0.13" textLength="5.00" lengthAdjust="spacingAndGlyphs">–/–</text>
<text x="96.00" y="596.90" font-size="6.2" text-anchor="start" font-weight="normal" fill="#333333" stroke="#333333" stroke-width="0.13" textLength="71.80" lengthAdjust="spacingAndGlyphs">G-CSF Spleen - 100 HSCs</text>
<line x1="258.50" y1="495.00" x2="258.50" y2="601.05" stroke="#231f20" stroke-width="1.1" stroke-linecap="butt"/>
<line x1="255.50" y1="498.30" x2="258.50" y2="498.30" stroke="#231f20" stroke-width="1.1" stroke-linecap="butt"/>
<text x="252.00" y="500.71" font-size="6.7" text-anchor="end" font-weight="normal" fill="#3c3c3c" stroke="#3c3c3c" stroke-width="0.12" textLength="10.35" lengthAdjust="spacingAndGlyphs">100</text>
<line x1="255.50" y1="518.74" x2="258.50" y2="518.74" stroke="#231f20" stroke-width="1.1" stroke-linecap="butt"/>
<text x="252.00" y="521.15" font-size="6.7" text-anchor="end" font-weight="normal" fill="#3c3c3c" stroke="#3c3c3c" stroke-width="0.12" textLength="6.90" lengthAdjust="spacingAndGlyphs">80</text>
<line x1="255.50" y1="539.18" x2="258.50" y2="539.18" stroke="#231f20" stroke-width="1.1" stroke-linecap="butt"/>
<text x="252.00" y="541.59" font-size="6.7" text-anchor="end" font-weight="normal" fill="#3c3c3c" stroke="#3c3c3c" stroke-width="0.12" textLength="6.90" lengthAdjust="spacingAndGlyphs">60</text>
<line x1="255.50" y1="559.62" x2="258.50" y2="559.62" stroke="#231f20" stroke-width="1.1" stroke-linecap="butt"/>
<text x="252.00" y="562.03" font-size="6.7" text-anchor="end" font-weight="normal" fill="#3c3c3c" stroke="#3c3c3c" stroke-width="0.12" textLength="6.90" lengthAdjust="spacingAndGlyphs">40</text>
<line x1="255.50" y1="580.06" x2="258.50" y2="580.06" stroke="#231f20" stroke-width="1.1" stroke-linecap="butt"/>
<text x="252.00" y="582.47" font-size="6.7" text-anchor="end" font-weight="normal" fill="#3c3c3c" stroke="#3c3c3c" stroke-width="0.12" textLength="6.90" lengthAdjust="spacingAndGlyphs">20</text>
<line x1="255.50" y1="600.50" x2="258.50" y2="600.50" stroke="#231f20" stroke-width="1.1" stroke-linecap="butt"/>
<text x="252.00" y="602.91" font-size="6.7" text-anchor="end" font-weight="normal" fill="#3c3c3c" stroke="#3c3c3c" stroke-width="0.12" textLength="3.45" lengthAdjust="spacingAndGlyphs">0</text>
<line x1="257.95" y1="600.50" x2="412.10" y2="600.50" stroke="#231f20" stroke-width="1.1" stroke-linecap="butt"/>
<line x1="283.00" y1="600.50" x2="283.00" y2="603.30" stroke="#231f20" stroke-width="1.1" stroke-linecap="butt"/>
<line x1="335.60" y1="600.50" x2="335.60" y2="603.30" stroke="#231f20" stroke-width="1.1" stroke-linecap="butt"/>
<line x1="387.50" y1="600.50" x2="387.50" y2="603.30" stroke="#231f20" stroke-width="1.1" stroke-linecap="butt"/>
<text x="283.20" y="612.80" font-size="7.0" text-anchor="middle" font-weight="normal" fill="#333333" stroke="#333333" stroke-width="0.13" textLength="24.30" lengthAdjust="spacingAndGlyphs">Myeloid</text>
<text x="335.80" y="612.80" font-size="7.0" text-anchor="middle" font-weight="normal" fill="#333333" stroke="#333333" stroke-width="0.13" textLength="20.80" lengthAdjust="spacingAndGlyphs">B Cells</text>
<text x="388.00" y="612.80" font-size="7.0" text-anchor="middle" font-weight="normal" fill="#333333" stroke="#333333" stroke-width="0.13" textLength="19.80" lengthAdjust="spacingAndGlyphs">T Cells</text>
<text x="225.40" y="547.50" font-size="8.5" text-anchor="middle" font-weight="normal" fill="#333333" stroke="#333333" stroke-width="0.13" textLength="72.70" lengthAdjust="spacingAndGlyphs" transform="rotate(-90 225.40 547.50)">24 week donor-derived</text>
<text x="235.00" y="547.50" font-size="8.5" text-anchor="middle" font-weight="normal" fill="#333333" stroke="#333333" stroke-width="0.13" textLength="73.70" lengthAdjust="spacingAndGlyphs" transform="rotate(-90 235.00 547.50)">chimerism (%CD45.2<tspan font-size="5" dy="-3">+</tspan><tspan dy="3">)</tspan></text>
<rect x="273.80" y="520.80" width="7.40" height="79.70" fill="#c3c4e4" stroke="#3f5d8e" stroke-width="1.0"/>
<rect x="285.60" y="530.70" width="7.40" height="69.80" fill="#f4c0bc" stroke="#c02a3a" stroke-width="1.0"/>
<circle cx="275.82" cy="500.07" r="1.35" fill="white" stroke="#2b5088" stroke-width="0.75"/>
<circle cx="278.38" cy="501.25" r="1.35" fill="white" stroke="#2b5088" stroke-width="0.75"/>
<circle cx="276.81" cy="503.61" r="1.35" fill="white" stroke="#2b5088" stroke-width="0.75"/>
<circle cx="279.17" cy="504.01" r="1.35" fill="white" stroke="#2b5088" stroke-width="0.75"/>
<circle cx="275.82" cy="505.58" r="1.35" fill="white" stroke="#2b5088" stroke-width="0.75"/>
<circle cx="275.82" cy="512.47" r="1.35" fill="white" stroke="#2b5088" stroke-width="0.75"/>
<circle cx="278.77" cy="515.42" r="1.35" fill="white" stroke="#2b5088" stroke-width="0.75"/>
<circle cx="277.79" cy="518.37" r="1.35" fill="white" stroke="#2b5088" stroke-width="0.75"/>
<circle cx="276.41" cy="521.32" r="1.35" fill="white" stroke="#2b5088" stroke-width="0.75"/>
<circle cx="278.77" cy="522.31" r="1.35" fill="white" stroke="#2b5088" stroke-width="0.75"/>
<circle cx="277.79" cy="528.21" r="1.35" fill="white" stroke="#2b5088" stroke-width="0.75"/>
<circle cx="277.79" cy="536.08" r="1.35" fill="white" stroke="#2b5088" stroke-width="0.75"/>
<circle cx="277.79" cy="568.55" r="1.35" fill="white" stroke="#2b5088" stroke-width="0.75"/>
<rect x="287.66" y="501.87" width="2.7" height="2.7" fill="white" stroke="#cc2a3c" stroke-width="0.75"/>
<rect x="285.30" y="512.10" width="2.7" height="2.7" fill="white" stroke="#cc2a3c" stroke-width="0.75"/>
<rect x="288.25" y="512.10" width="2.7" height="2.7" fill="white" stroke="#cc2a3c" stroke-width="0.75"/>
<rect x="290.21" y="513.09" width="2.7" height="2.7" fill="white" stroke="#cc2a3c" stroke-width="0.75"/>
<rect x="286.87" y="515.05" width="2.7" height="2.7" fill="white" stroke="#cc2a3c" stroke-width="0.75"/>
<rect x="285.69" y="523.91" width="2.7" height="2.7" fill="white" stroke="#cc2a3c" stroke-width="0.75"/>
<rect x="288.84" y="525.88" width="2.7" height="2.7" fill="white" stroke="#cc2a3c" stroke-width="0.75"/>
<rect x="287.26" y="548.50" width="2.7" height="2.7" fill="white" stroke="#cc2a3c" stroke-width="0.75"/>
<rect x="287.26" y="596.32" width="2.7" height="2.7" fill="white" stroke="#cc2a3c" stroke-width="0.75"/>
<line x1="277.50" y1="516.40" x2="277.50" y2="524.30" stroke="#3d6699" stroke-width="0.9" stroke-linecap="butt"/>
<line x1="275.70" y1="516.40" x2="279.30" y2="516.40" stroke="#3d6699" stroke-width="0.9" stroke-linecap="butt"/>
<line x1="275.70" y1="524.30" x2="279.30" y2="524.30" stroke="#3d6699" stroke-width="0.9" stroke-linecap="butt"/>
<line x1="289.30" y1="520.90" x2="289.30" y2="539.00" stroke="#c8283c" stroke-width="0.9" stroke-linecap="butt"/>
<line x1="287.50" y1="520.90" x2="291.10" y2="520.90" stroke="#c8283c" stroke-width="0.9" stroke-linecap="butt"/>
<line x1="287.50" y1="539.00" x2="291.10" y2="539.00" stroke="#c8283c" stroke-width="0.9" stroke-linecap="butt"/>
<rect x="326.90" y="507.70" width="6.60" height="92.80" fill="#c3c4e4" stroke="#3f5d8e" stroke-width="1.0"/>
<rect x="338.30" y="539.50" width="6.60" height="61.00" fill="#f4c0bc" stroke="#c02a3a" stroke-width="1.0"/>
<circle cx="329.94" cy="498.69" r="1.35" fill="white" stroke="#2b5088" stroke-width="0.75"/>
<circle cx="328.95" cy="500.66" r="1.35" fill="white" stroke="#2b5088" stroke-width="0.75"/>
<circle cx="331.51" cy="501.65" r="1.35" fill="white" stroke="#2b5088" stroke-width="0.75"/>
<circle cx="328.36" cy="503.22" r="1.35" fill="white" stroke="#2b5088" stroke-width="0.75"/>
<circle cx="330.92" cy="504.60" r="1.35" fill="white" stroke="#2b5088" stroke-width="0.75"/>
<circle cx="329.54" cy="506.56" r="1.35" fill="white" stroke="#2b5088" stroke-width="0.75"/>
<circle cx="330.92" cy="521.32" r="1.35" fill="white" stroke="#2b5088" stroke-width="0.75"/>
<circle cx="329.94" cy="527.23" r="1.35" fill="white" stroke="#2b5088" stroke-width="0.75"/>
<rect x="338.03" y="504.23" width="2.7" height="2.7" fill="white" stroke="#cc2a3c" stroke-width="0.75"/>
<rect x="340.39" y="503.25" width="2.7" height="2.7" fill="white" stroke="#cc2a3c" stroke-width="0.75"/>
<rect x="339.41" y="505.21" width="2.7" height="2.7" fill="white" stroke="#cc2a3c" stroke-width="0.75"/>
<rect x="341.38" y="505.21" width="2.7" height="2.7" fill="white" stroke="#cc2a3c" stroke-width="0.75"/>
<rect x="340.00" y="519.58" width="2.7" height="2.7" fill="white" stroke="#cc2a3c" stroke-width="0.75"/>
<rect x="340.00" y="564.25" width="2.7" height="2.7" fill="white" stroke="#cc2a3c" stroke-width="0.75"/>
<rect x="340.00" y="569.56" width="2.7" height="2.7" fill="white" stroke="#cc2a3c" stroke-width="0.75"/>
<rect x="340.00" y="577.04" width="2.7" height="2.7" fill="white" stroke="#cc2a3c" stroke-width="0.75"/>
<rect x="340.00" y="589.83" width="2.7" height="2.7" fill="white" stroke="#cc2a3c" stroke-width="0.75"/>
<line x1="330.20" y1="505.20" x2="330.20" y2="509.10" stroke="#3d6699" stroke-width="0.9" stroke-linecap="butt"/>
<line x1="328.40" y1="505.20" x2="332.00" y2="505.20" stroke="#3d6699" stroke-width="0.9" stroke-linecap="butt"/>
<line x1="328.40" y1="509.10" x2="332.00" y2="509.10" stroke="#3d6699" stroke-width="0.9" stroke-linecap="butt"/>
<line x1="341.60" y1="526.20" x2="341.60" y2="551.20" stroke="#c8283c" stroke-width="0.9" stroke-linecap="butt"/>
<line x1="339.80" y1="526.20" x2="343.40" y2="526.20" stroke="#c8283c" stroke-width="0.9" stroke-linecap="butt"/>
<line x1="339.80" y1="551.20" x2="343.40" y2="551.20" stroke="#c8283c" stroke-width="0.9" stroke-linecap="butt"/>
<rect x="379.20" y="515.50" width="6.90" height="85.00" fill="#c3c4e4" stroke="#3f5d8e" stroke-width="1.0"/>
<rect x="390.00" y="541.90" width="6.90" height="58.60" fill="#f4c0bc" stroke="#c02a3a" stroke-width="1.0"/>
<circle cx="380.66" cy="499.67" r="1.35" fill="white" stroke="#2b5088" stroke-width="0.75"/>
<circle cx="383.21" cy="500.07" r="1.35" fill="white" stroke="#2b5088" stroke-width="0.75"/>
<circle cx="381.64" cy="502.62" r="1.35" fill="white" stroke="#2b5088" stroke-width="0.75"/>
<circle cx="380.07" cy="504.59" r="1.35" fill="white" stroke="#2b5088" stroke-width="0.75"/>
<circle cx="383.21" cy="505.18" r="1.35" fill="white" stroke="#2b5088" stroke-width="0.75"/>
<circle cx="381.64" cy="506.56" r="1.35" fill="white" stroke="#2b5088" stroke-width="0.75"/>
<circle cx="380.07" cy="515.41" r="1.35" fill="white" stroke="#2b5088" stroke-width="0.75"/>
<circle cx="383.21" cy="517.38" r="1.35" fill="white" stroke="#2b5088" stroke-width="0.75"/>
<circle cx="381.64" cy="521.31" r="1.35" fill="white" stroke="#2b5088" stroke-width="0.75"/>
<circle cx="380.07" cy="525.25" r="1.35" fill="white" stroke="#2b5088" stroke-width="0.75"/>
<circle cx="383.61" cy="527.22" r="1.35" fill="white" stroke="#2b5088" stroke-width="0.75"/>
<circle cx="381.25" cy="530.17" r="1.35" fill="white" stroke="#2b5088" stroke-width="0.75"/>
<circle cx="380.07" cy="533.12" r="1.35" fill="white" stroke="#2b5088" stroke-width="0.75"/>
<rect x="390.13" y="505.21" width="2.7" height="2.7" fill="white" stroke="#cc2a3c" stroke-width="0.75"/>
<rect x="393.08" y="504.23" width="2.7" height="2.7" fill="white" stroke="#cc2a3c" stroke-width="0.75"/>
<rect x="395.05" y="506.19" width="2.7" height="2.7" fill="white" stroke="#cc2a3c" stroke-width="0.75"/>
<rect x="390.13" y="508.16" width="2.7" height="2.7" fill="white" stroke="#cc2a3c" stroke-width="0.75"/>
<rect x="393.08" y="508.16" width="2.7" height="2.7" fill="white" stroke="#cc2a3c" stroke-width="0.75"/>
<rect x="390.13" y="511.11" width="2.7" height="2.7" fill="white" stroke="#cc2a3c" stroke-width="0.75"/>
<rect x="393.67" y="516.03" width="2.7" height="2.7" fill="white" stroke="#cc2a3c" stroke-width="0.75"/>
<rect x="392.49" y="522.32" width="2.7" height="2.7" fill="white" stroke="#cc2a3c" stroke-width="0.75"/>
<rect x="393.08" y="559.31" width="2.7" height="2.7" fill="white" stroke="#cc2a3c" stroke-width="0.75"/>
<rect x="391.11" y="570.13" width="2.7" height="2.7" fill="white" stroke="#cc2a3c" stroke-width="0.75"/>
<rect x="394.06" y="572.10" width="2.7" height="2.7" fill="white" stroke="#cc2a3c" stroke-width="0.75"/>
<rect x="393.08" y="595.71" width="2.7" height="2.7" fill="white" stroke="#cc2a3c" stroke-width="0.75"/>
<line x1="382.65" y1="511.50" x2="382.65" y2="518.40" stroke="#3d6699" stroke-width="0.9" stroke-linecap="butt"/>
<line x1="380.85" y1="511.50" x2="384.45" y2="511.50" stroke="#3d6699" stroke-width="0.9" stroke-linecap="butt"/>
<line x1="380.85" y1="518.40" x2="384.45" y2="518.40" stroke="#3d6699" stroke-width="0.9" stroke-linecap="butt"/>
<line x1="393.45" y1="530.80" x2="393.45" y2="551.80" stroke="#c8283c" stroke-width="0.9" stroke-linecap="butt"/>
<line x1="391.65" y1="530.80" x2="395.25" y2="530.80" stroke="#c8283c" stroke-width="0.9" stroke-linecap="butt"/>
<line x1="391.65" y1="551.80" x2="395.25" y2="551.80" stroke="#c8283c" stroke-width="0.9" stroke-linecap="butt"/>
<polyline points="329.50,495.80 329.50,493.40 341.30,493.40 341.30,498.70" fill="none" stroke="#2a2a2a" stroke-width="1.0"/>
<ellipse cx="335.40" cy="488.90" rx="1.15" ry="1.0" fill="#2a2a2a"/>
<polyline points="382.00,496.00 382.00,493.80 393.40,493.80 393.40,499.30" fill="none" stroke="#2a2a2a" stroke-width="1.0"/>
<ellipse cx="387.70" cy="489.30" rx="1.15" ry="1.0" fill="#2a2a2a"/>
<text x="426.00" y="489.90" font-size="12" text-anchor="start" font-weight="bold" fill="#111" stroke="#111" stroke-width="0.13">F</text>
<line x1="462.10" y1="496.40" x2="462.10" y2="601.95" stroke="#231f20" stroke-width="1.1" stroke-linecap="butt"/>
<line x1="459.10" y1="499.00" x2="462.10" y2="499.00" stroke="#231f20" stroke-width="1.1" stroke-linecap="butt"/>
<text x="455.30" y="501.41" font-size="6.7" text-anchor="end" font-weight="normal" fill="#3c3c3c" stroke="#3c3c3c" stroke-width="0.12" textLength="13.00" lengthAdjust="spacingAndGlyphs">0.02</text>
<line x1="459.10" y1="550.20" x2="462.10" y2="550.20" stroke="#231f20" stroke-width="1.1" stroke-linecap="butt"/>
<text x="455.30" y="552.61" font-size="6.7" text-anchor="end" font-weight="normal" fill="#3c3c3c" stroke="#3c3c3c" stroke-width="0.12" textLength="13.00" lengthAdjust="spacingAndGlyphs">0.01</text>
<line x1="459.10" y1="601.40" x2="462.10" y2="601.40" stroke="#231f20" stroke-width="1.1" stroke-linecap="butt"/>
<text x="455.30" y="603.81" font-size="6.7" text-anchor="end" font-weight="normal" fill="#3c3c3c" stroke="#3c3c3c" stroke-width="0.12" textLength="13.00" lengthAdjust="spacingAndGlyphs">0.00</text>
<line x1="461.55" y1="601.40" x2="512.70" y2="601.40" stroke="#231f20" stroke-width="1.1" stroke-linecap="butt"/>
<line x1="476.40" y1="601.40" x2="476.40" y2="604.20" stroke="#231f20" stroke-width="1.1" stroke-linecap="butt"/>
<line x1="498.50" y1="601.40" x2="498.50" y2="604.20" stroke="#231f20" stroke-width="1.1" stroke-linecap="butt"/>
<text x="476.60" y="613.60" font-size="6.2" text-anchor="middle" font-weight="normal" fill="#333333" stroke="#333333" stroke-width="0.13" textLength="8.60" lengthAdjust="spacingAndGlyphs">WT</text>
<text x="487.60" y="613.60" font-size="6.2" text-anchor="start" font-weight="normal" fill="#333333" stroke="#333333" stroke-width="0.13" textLength="14.00" lengthAdjust="spacingAndGlyphs" font-style="italic">Cd53</text>
<text x="501.80" y="610.80" font-size="3.6" text-anchor="start" font-weight="normal" fill="#333333" stroke="#333333" stroke-width="0.13" textLength="5.00" lengthAdjust="spacingAndGlyphs">–/–</text>
<text x="437.40" y="548.00" font-size="8.6" text-anchor="middle" font-weight="normal" fill="#333333" stroke="#333333" stroke-width="0.13" textLength="50.50" lengthAdjust="spacingAndGlyphs" transform="rotate(-90 437.40 548.00)">% CD45.2<tspan font-size="5.4" dy="-3.2">+</tspan><tspan dy="3.2"> cells</tspan></text>
<rect x="469.90" y="545.00" width="13.10" height="56.40" fill="#c3c4e4" stroke="#3f5d8e" stroke-width="1.0"/>
<rect x="492.00" y="549.50" width="13.00" height="51.90" fill="#f4c0bc" stroke="#c02a3a" stroke-width="1.0"/>
<circle cx="476.20" cy="524.90" r="1.4" fill="white" stroke="#3d6699" stroke-width="0.85"/>
<circle cx="476.20" cy="529.20" r="1.4" fill="white" stroke="#3d6699" stroke-width="0.85"/>
<circle cx="476.20" cy="534.80" r="1.4" fill="white" stroke="#3d6699" stroke-width="0.85"/>
<circle cx="476.20" cy="539.80" r="1.4" fill="white" stroke="#3d6699" stroke-width="0.85"/>
<circle cx="476.20" cy="545.50" r="1.4" fill="white" stroke="#3d6699" stroke-width="0.85"/>
<circle cx="476.20" cy="552.50" r="1.4" fill="white" stroke="#3d6699" stroke-width="0.85"/>
<circle cx="476.20" cy="558.90" r="1.4" fill="white" stroke="#3d6699" stroke-width="0.85"/>
<circle cx="476.20" cy="562.50" r="1.4" fill="white" stroke="#3d6699" stroke-width="0.85"/>
<rect x="494.30" y="523.50" width="2.8" height="2.8" fill="white" stroke="#c8283c" stroke-width="0.85"/>
<rect x="500.50" y="523.50" width="2.8" height="2.8" fill="white" stroke="#c8283c" stroke-width="0.85"/>
<rect x="497.10" y="549.20" width="2.8" height="2.8" fill="white" stroke="#c8283c" stroke-width="0.85"/>
<rect x="497.10" y="555.20" width="2.8" height="2.8" fill="white" stroke="#c8283c" stroke-width="0.85"/>
<rect x="497.10" y="582.70" width="2.8" height="2.8" fill="white" stroke="#c8283c" stroke-width="0.85"/>
<circle cx="498.50" cy="540.60" r="1.5" fill="white" stroke="#c8283c" stroke-width="0.85"/>
<line x1="476.40" y1="538.40" x2="476.40" y2="548.70" stroke="#3d6699" stroke-width="0.9" stroke-linecap="butt"/>
<line x1="473.80" y1="538.40" x2="479.00" y2="538.40" stroke="#3d6699" stroke-width="0.9" stroke-linecap="butt"/>
<line x1="473.80" y1="548.70" x2="479.00" y2="548.70" stroke="#3d6699" stroke-width="0.9" stroke-linecap="butt"/>
<line x1="498.50" y1="540.50" x2="498.50" y2="556.10" stroke="#c8283c" stroke-width="0.9" stroke-linecap="butt"/>
<line x1="495.90" y1="540.50" x2="501.10" y2="540.50" stroke="#c8283c" stroke-width="0.9" stroke-linecap="butt"/>
<line x1="495.90" y1="556.10" x2="501.10" y2="556.10" stroke="#c8283c" stroke-width="0.9" stroke-linecap="butt"/>
</svg>
</body></html>
